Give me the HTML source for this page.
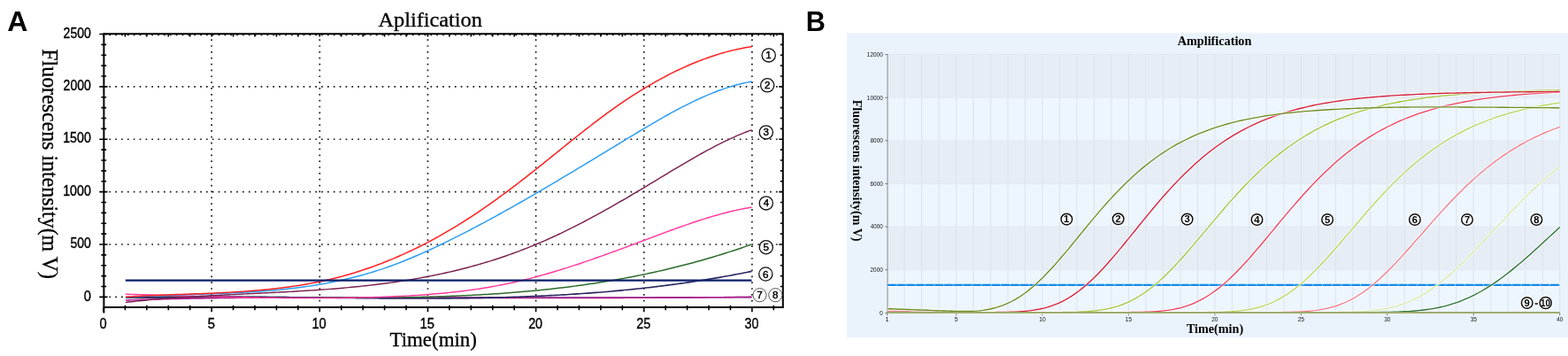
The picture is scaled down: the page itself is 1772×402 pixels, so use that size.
<!DOCTYPE html><html><head><meta charset="utf-8"><title>Amplification</title><style>html,body{margin:0;padding:0;background:#fff;width:1772px;height:402px;overflow:hidden}svg{display:block}.sans{font-family:"Liberation Sans",Arial,sans-serif}.serif{font-family:"Liberation Serif","Times New Roman",serif}</style></head><body>
<svg width="1772" height="402" viewBox="0 0 1772 402">
<rect width="1772" height="402" fill="#fff"/>
<text class="sans" transform="translate(8.2 35.3) scale(1.0000 1)" font-size="32" font-weight="bold" fill="#000">A</text>
<text class="serif" transform="translate(427.46 29.6) scale(1.0128 1)" font-size="24" fill="#000" stroke="#000" stroke-width="0.3">Aplification</text>
<path d="M238.3 44.3h1.7v1.7h-1.7zM238.3 51.15h1.7v1.7h-1.7zM238.3 58h1.7v1.7h-1.7zM238.3 64.85h1.7v1.7h-1.7zM238.3 71.7h1.7v1.7h-1.7zM238.3 78.55h1.7v1.7h-1.7zM238.3 85.4h1.7v1.7h-1.7zM238.3 92.25h1.7v1.7h-1.7zM238.3 99.1h1.7v1.7h-1.7zM238.3 105.95h1.7v1.7h-1.7zM238.3 112.8h1.7v1.7h-1.7zM238.3 119.65h1.7v1.7h-1.7zM238.3 126.5h1.7v1.7h-1.7zM238.3 133.35h1.7v1.7h-1.7zM238.3 140.2h1.7v1.7h-1.7zM238.3 147.05h1.7v1.7h-1.7zM238.3 153.9h1.7v1.7h-1.7zM238.3 160.75h1.7v1.7h-1.7zM238.3 167.6h1.7v1.7h-1.7zM238.3 174.45h1.7v1.7h-1.7zM238.3 181.3h1.7v1.7h-1.7zM238.3 188.15h1.7v1.7h-1.7zM238.3 195h1.7v1.7h-1.7zM238.3 201.85h1.7v1.7h-1.7zM238.3 208.7h1.7v1.7h-1.7zM238.3 215.55h1.7v1.7h-1.7zM238.3 222.4h1.7v1.7h-1.7zM238.3 229.25h1.7v1.7h-1.7zM238.3 236.1h1.7v1.7h-1.7zM238.3 242.95h1.7v1.7h-1.7zM238.3 249.8h1.7v1.7h-1.7zM238.3 256.65h1.7v1.7h-1.7zM238.3 263.5h1.7v1.7h-1.7zM238.3 270.35h1.7v1.7h-1.7zM238.3 277.2h1.7v1.7h-1.7zM238.3 284.05h1.7v1.7h-1.7zM238.3 290.9h1.7v1.7h-1.7zM238.3 297.75h1.7v1.7h-1.7zM238.3 304.6h1.7v1.7h-1.7zM238.3 311.45h1.7v1.7h-1.7zM238.3 318.3h1.7v1.7h-1.7zM238.3 325.15h1.7v1.7h-1.7zM238.3 332h1.7v1.7h-1.7zM238.3 338.85h1.7v1.7h-1.7zM360.45 44.3h1.7v1.7h-1.7zM360.45 51.15h1.7v1.7h-1.7zM360.45 58h1.7v1.7h-1.7zM360.45 64.85h1.7v1.7h-1.7zM360.45 71.7h1.7v1.7h-1.7zM360.45 78.55h1.7v1.7h-1.7zM360.45 85.4h1.7v1.7h-1.7zM360.45 92.25h1.7v1.7h-1.7zM360.45 99.1h1.7v1.7h-1.7zM360.45 105.95h1.7v1.7h-1.7zM360.45 112.8h1.7v1.7h-1.7zM360.45 119.65h1.7v1.7h-1.7zM360.45 126.5h1.7v1.7h-1.7zM360.45 133.35h1.7v1.7h-1.7zM360.45 140.2h1.7v1.7h-1.7zM360.45 147.05h1.7v1.7h-1.7zM360.45 153.9h1.7v1.7h-1.7zM360.45 160.75h1.7v1.7h-1.7zM360.45 167.6h1.7v1.7h-1.7zM360.45 174.45h1.7v1.7h-1.7zM360.45 181.3h1.7v1.7h-1.7zM360.45 188.15h1.7v1.7h-1.7zM360.45 195h1.7v1.7h-1.7zM360.45 201.85h1.7v1.7h-1.7zM360.45 208.7h1.7v1.7h-1.7zM360.45 215.55h1.7v1.7h-1.7zM360.45 222.4h1.7v1.7h-1.7zM360.45 229.25h1.7v1.7h-1.7zM360.45 236.1h1.7v1.7h-1.7zM360.45 242.95h1.7v1.7h-1.7zM360.45 249.8h1.7v1.7h-1.7zM360.45 256.65h1.7v1.7h-1.7zM360.45 263.5h1.7v1.7h-1.7zM360.45 270.35h1.7v1.7h-1.7zM360.45 277.2h1.7v1.7h-1.7zM360.45 284.05h1.7v1.7h-1.7zM360.45 290.9h1.7v1.7h-1.7zM360.45 297.75h1.7v1.7h-1.7zM360.45 304.6h1.7v1.7h-1.7zM360.45 311.45h1.7v1.7h-1.7zM360.45 318.3h1.7v1.7h-1.7zM360.45 325.15h1.7v1.7h-1.7zM360.45 332h1.7v1.7h-1.7zM360.45 338.85h1.7v1.7h-1.7zM482.6 44.3h1.7v1.7h-1.7zM482.6 51.15h1.7v1.7h-1.7zM482.6 58h1.7v1.7h-1.7zM482.6 64.85h1.7v1.7h-1.7zM482.6 71.7h1.7v1.7h-1.7zM482.6 78.55h1.7v1.7h-1.7zM482.6 85.4h1.7v1.7h-1.7zM482.6 92.25h1.7v1.7h-1.7zM482.6 99.1h1.7v1.7h-1.7zM482.6 105.95h1.7v1.7h-1.7zM482.6 112.8h1.7v1.7h-1.7zM482.6 119.65h1.7v1.7h-1.7zM482.6 126.5h1.7v1.7h-1.7zM482.6 133.35h1.7v1.7h-1.7zM482.6 140.2h1.7v1.7h-1.7zM482.6 147.05h1.7v1.7h-1.7zM482.6 153.9h1.7v1.7h-1.7zM482.6 160.75h1.7v1.7h-1.7zM482.6 167.6h1.7v1.7h-1.7zM482.6 174.45h1.7v1.7h-1.7zM482.6 181.3h1.7v1.7h-1.7zM482.6 188.15h1.7v1.7h-1.7zM482.6 195h1.7v1.7h-1.7zM482.6 201.85h1.7v1.7h-1.7zM482.6 208.7h1.7v1.7h-1.7zM482.6 215.55h1.7v1.7h-1.7zM482.6 222.4h1.7v1.7h-1.7zM482.6 229.25h1.7v1.7h-1.7zM482.6 236.1h1.7v1.7h-1.7zM482.6 242.95h1.7v1.7h-1.7zM482.6 249.8h1.7v1.7h-1.7zM482.6 256.65h1.7v1.7h-1.7zM482.6 263.5h1.7v1.7h-1.7zM482.6 270.35h1.7v1.7h-1.7zM482.6 277.2h1.7v1.7h-1.7zM482.6 284.05h1.7v1.7h-1.7zM482.6 290.9h1.7v1.7h-1.7zM482.6 297.75h1.7v1.7h-1.7zM482.6 304.6h1.7v1.7h-1.7zM482.6 311.45h1.7v1.7h-1.7zM482.6 318.3h1.7v1.7h-1.7zM482.6 325.15h1.7v1.7h-1.7zM482.6 332h1.7v1.7h-1.7zM482.6 338.85h1.7v1.7h-1.7zM604.75 44.3h1.7v1.7h-1.7zM604.75 51.15h1.7v1.7h-1.7zM604.75 58h1.7v1.7h-1.7zM604.75 64.85h1.7v1.7h-1.7zM604.75 71.7h1.7v1.7h-1.7zM604.75 78.55h1.7v1.7h-1.7zM604.75 85.4h1.7v1.7h-1.7zM604.75 92.25h1.7v1.7h-1.7zM604.75 99.1h1.7v1.7h-1.7zM604.75 105.95h1.7v1.7h-1.7zM604.75 112.8h1.7v1.7h-1.7zM604.75 119.65h1.7v1.7h-1.7zM604.75 126.5h1.7v1.7h-1.7zM604.75 133.35h1.7v1.7h-1.7zM604.75 140.2h1.7v1.7h-1.7zM604.75 147.05h1.7v1.7h-1.7zM604.75 153.9h1.7v1.7h-1.7zM604.75 160.75h1.7v1.7h-1.7zM604.75 167.6h1.7v1.7h-1.7zM604.75 174.45h1.7v1.7h-1.7zM604.75 181.3h1.7v1.7h-1.7zM604.75 188.15h1.7v1.7h-1.7zM604.75 195h1.7v1.7h-1.7zM604.75 201.85h1.7v1.7h-1.7zM604.75 208.7h1.7v1.7h-1.7zM604.75 215.55h1.7v1.7h-1.7zM604.75 222.4h1.7v1.7h-1.7zM604.75 229.25h1.7v1.7h-1.7zM604.75 236.1h1.7v1.7h-1.7zM604.75 242.95h1.7v1.7h-1.7zM604.75 249.8h1.7v1.7h-1.7zM604.75 256.65h1.7v1.7h-1.7zM604.75 263.5h1.7v1.7h-1.7zM604.75 270.35h1.7v1.7h-1.7zM604.75 277.2h1.7v1.7h-1.7zM604.75 284.05h1.7v1.7h-1.7zM604.75 290.9h1.7v1.7h-1.7zM604.75 297.75h1.7v1.7h-1.7zM604.75 304.6h1.7v1.7h-1.7zM604.75 311.45h1.7v1.7h-1.7zM604.75 318.3h1.7v1.7h-1.7zM604.75 325.15h1.7v1.7h-1.7zM604.75 332h1.7v1.7h-1.7zM604.75 338.85h1.7v1.7h-1.7zM726.9 44.3h1.7v1.7h-1.7zM726.9 51.15h1.7v1.7h-1.7zM726.9 58h1.7v1.7h-1.7zM726.9 64.85h1.7v1.7h-1.7zM726.9 71.7h1.7v1.7h-1.7zM726.9 78.55h1.7v1.7h-1.7zM726.9 85.4h1.7v1.7h-1.7zM726.9 92.25h1.7v1.7h-1.7zM726.9 99.1h1.7v1.7h-1.7zM726.9 105.95h1.7v1.7h-1.7zM726.9 112.8h1.7v1.7h-1.7zM726.9 119.65h1.7v1.7h-1.7zM726.9 126.5h1.7v1.7h-1.7zM726.9 133.35h1.7v1.7h-1.7zM726.9 140.2h1.7v1.7h-1.7zM726.9 147.05h1.7v1.7h-1.7zM726.9 153.9h1.7v1.7h-1.7zM726.9 160.75h1.7v1.7h-1.7zM726.9 167.6h1.7v1.7h-1.7zM726.9 174.45h1.7v1.7h-1.7zM726.9 181.3h1.7v1.7h-1.7zM726.9 188.15h1.7v1.7h-1.7zM726.9 195h1.7v1.7h-1.7zM726.9 201.85h1.7v1.7h-1.7zM726.9 208.7h1.7v1.7h-1.7zM726.9 215.55h1.7v1.7h-1.7zM726.9 222.4h1.7v1.7h-1.7zM726.9 229.25h1.7v1.7h-1.7zM726.9 236.1h1.7v1.7h-1.7zM726.9 242.95h1.7v1.7h-1.7zM726.9 249.8h1.7v1.7h-1.7zM726.9 256.65h1.7v1.7h-1.7zM726.9 263.5h1.7v1.7h-1.7zM726.9 270.35h1.7v1.7h-1.7zM726.9 277.2h1.7v1.7h-1.7zM726.9 284.05h1.7v1.7h-1.7zM726.9 290.9h1.7v1.7h-1.7zM726.9 297.75h1.7v1.7h-1.7zM726.9 304.6h1.7v1.7h-1.7zM726.9 311.45h1.7v1.7h-1.7zM726.9 318.3h1.7v1.7h-1.7zM726.9 325.15h1.7v1.7h-1.7zM726.9 332h1.7v1.7h-1.7zM726.9 338.85h1.7v1.7h-1.7zM849.05 44.3h1.7v1.7h-1.7zM849.05 51.15h1.7v1.7h-1.7zM849.05 58h1.7v1.7h-1.7zM849.05 64.85h1.7v1.7h-1.7zM849.05 71.7h1.7v1.7h-1.7zM849.05 78.55h1.7v1.7h-1.7zM849.05 85.4h1.7v1.7h-1.7zM849.05 92.25h1.7v1.7h-1.7zM849.05 99.1h1.7v1.7h-1.7zM849.05 105.95h1.7v1.7h-1.7zM849.05 112.8h1.7v1.7h-1.7zM849.05 119.65h1.7v1.7h-1.7zM849.05 126.5h1.7v1.7h-1.7zM849.05 133.35h1.7v1.7h-1.7zM849.05 140.2h1.7v1.7h-1.7zM849.05 147.05h1.7v1.7h-1.7zM849.05 153.9h1.7v1.7h-1.7zM849.05 160.75h1.7v1.7h-1.7zM849.05 167.6h1.7v1.7h-1.7zM849.05 174.45h1.7v1.7h-1.7zM849.05 181.3h1.7v1.7h-1.7zM849.05 188.15h1.7v1.7h-1.7zM849.05 195h1.7v1.7h-1.7zM849.05 201.85h1.7v1.7h-1.7zM849.05 208.7h1.7v1.7h-1.7zM849.05 215.55h1.7v1.7h-1.7zM849.05 222.4h1.7v1.7h-1.7zM849.05 229.25h1.7v1.7h-1.7zM849.05 236.1h1.7v1.7h-1.7zM849.05 242.95h1.7v1.7h-1.7zM849.05 249.8h1.7v1.7h-1.7zM849.05 256.65h1.7v1.7h-1.7zM849.05 263.5h1.7v1.7h-1.7zM849.05 270.35h1.7v1.7h-1.7zM849.05 277.2h1.7v1.7h-1.7zM849.05 284.05h1.7v1.7h-1.7zM849.05 290.9h1.7v1.7h-1.7zM849.05 297.75h1.7v1.7h-1.7zM849.05 304.6h1.7v1.7h-1.7zM849.05 311.45h1.7v1.7h-1.7zM849.05 318.3h1.7v1.7h-1.7zM849.05 325.15h1.7v1.7h-1.7zM849.05 332h1.7v1.7h-1.7zM849.05 338.85h1.7v1.7h-1.7zM123.4 97.03h1.7v1.7h-1.7zM130.25 97.03h1.7v1.7h-1.7zM137.1 97.03h1.7v1.7h-1.7zM143.95 97.03h1.7v1.7h-1.7zM150.8 97.03h1.7v1.7h-1.7zM157.65 97.03h1.7v1.7h-1.7zM164.5 97.03h1.7v1.7h-1.7zM171.35 97.03h1.7v1.7h-1.7zM178.2 97.03h1.7v1.7h-1.7zM185.05 97.03h1.7v1.7h-1.7zM191.9 97.03h1.7v1.7h-1.7zM198.75 97.03h1.7v1.7h-1.7zM205.6 97.03h1.7v1.7h-1.7zM212.45 97.03h1.7v1.7h-1.7zM219.3 97.03h1.7v1.7h-1.7zM226.15 97.03h1.7v1.7h-1.7zM233 97.03h1.7v1.7h-1.7zM239.85 97.03h1.7v1.7h-1.7zM246.7 97.03h1.7v1.7h-1.7zM253.55 97.03h1.7v1.7h-1.7zM260.4 97.03h1.7v1.7h-1.7zM267.25 97.03h1.7v1.7h-1.7zM274.1 97.03h1.7v1.7h-1.7zM280.95 97.03h1.7v1.7h-1.7zM287.8 97.03h1.7v1.7h-1.7zM294.65 97.03h1.7v1.7h-1.7zM301.5 97.03h1.7v1.7h-1.7zM308.35 97.03h1.7v1.7h-1.7zM315.2 97.03h1.7v1.7h-1.7zM322.05 97.03h1.7v1.7h-1.7zM328.9 97.03h1.7v1.7h-1.7zM335.75 97.03h1.7v1.7h-1.7zM342.6 97.03h1.7v1.7h-1.7zM349.45 97.03h1.7v1.7h-1.7zM356.3 97.03h1.7v1.7h-1.7zM363.15 97.03h1.7v1.7h-1.7zM370 97.03h1.7v1.7h-1.7zM376.85 97.03h1.7v1.7h-1.7zM383.7 97.03h1.7v1.7h-1.7zM390.55 97.03h1.7v1.7h-1.7zM397.4 97.03h1.7v1.7h-1.7zM404.25 97.03h1.7v1.7h-1.7zM411.1 97.03h1.7v1.7h-1.7zM417.95 97.03h1.7v1.7h-1.7zM424.8 97.03h1.7v1.7h-1.7zM431.65 97.03h1.7v1.7h-1.7zM438.5 97.03h1.7v1.7h-1.7zM445.35 97.03h1.7v1.7h-1.7zM452.2 97.03h1.7v1.7h-1.7zM459.05 97.03h1.7v1.7h-1.7zM465.9 97.03h1.7v1.7h-1.7zM472.75 97.03h1.7v1.7h-1.7zM479.6 97.03h1.7v1.7h-1.7zM486.45 97.03h1.7v1.7h-1.7zM493.3 97.03h1.7v1.7h-1.7zM500.15 97.03h1.7v1.7h-1.7zM507 97.03h1.7v1.7h-1.7zM513.85 97.03h1.7v1.7h-1.7zM520.7 97.03h1.7v1.7h-1.7zM527.55 97.03h1.7v1.7h-1.7zM534.4 97.03h1.7v1.7h-1.7zM541.25 97.03h1.7v1.7h-1.7zM548.1 97.03h1.7v1.7h-1.7zM554.95 97.03h1.7v1.7h-1.7zM561.8 97.03h1.7v1.7h-1.7zM568.65 97.03h1.7v1.7h-1.7zM575.5 97.03h1.7v1.7h-1.7zM582.35 97.03h1.7v1.7h-1.7zM589.2 97.03h1.7v1.7h-1.7zM596.05 97.03h1.7v1.7h-1.7zM602.9 97.03h1.7v1.7h-1.7zM609.75 97.03h1.7v1.7h-1.7zM616.6 97.03h1.7v1.7h-1.7zM623.45 97.03h1.7v1.7h-1.7zM630.3 97.03h1.7v1.7h-1.7zM637.15 97.03h1.7v1.7h-1.7zM644 97.03h1.7v1.7h-1.7zM650.85 97.03h1.7v1.7h-1.7zM657.7 97.03h1.7v1.7h-1.7zM664.55 97.03h1.7v1.7h-1.7zM671.4 97.03h1.7v1.7h-1.7zM678.25 97.03h1.7v1.7h-1.7zM685.1 97.03h1.7v1.7h-1.7zM691.95 97.03h1.7v1.7h-1.7zM698.8 97.03h1.7v1.7h-1.7zM705.65 97.03h1.7v1.7h-1.7zM712.5 97.03h1.7v1.7h-1.7zM719.35 97.03h1.7v1.7h-1.7zM726.2 97.03h1.7v1.7h-1.7zM733.05 97.03h1.7v1.7h-1.7zM739.9 97.03h1.7v1.7h-1.7zM746.75 97.03h1.7v1.7h-1.7zM753.6 97.03h1.7v1.7h-1.7zM760.45 97.03h1.7v1.7h-1.7zM767.3 97.03h1.7v1.7h-1.7zM774.15 97.03h1.7v1.7h-1.7zM781 97.03h1.7v1.7h-1.7zM787.85 97.03h1.7v1.7h-1.7zM794.7 97.03h1.7v1.7h-1.7zM801.55 97.03h1.7v1.7h-1.7zM808.4 97.03h1.7v1.7h-1.7zM815.25 97.03h1.7v1.7h-1.7zM822.1 97.03h1.7v1.7h-1.7zM828.95 97.03h1.7v1.7h-1.7zM835.8 97.03h1.7v1.7h-1.7zM842.65 97.03h1.7v1.7h-1.7zM849.5 97.03h1.7v1.7h-1.7zM856.35 97.03h1.7v1.7h-1.7zM863.2 97.03h1.7v1.7h-1.7zM870.05 97.03h1.7v1.7h-1.7zM876.9 97.03h1.7v1.7h-1.7zM123.4 156.41h1.7v1.7h-1.7zM130.25 156.41h1.7v1.7h-1.7zM137.1 156.41h1.7v1.7h-1.7zM143.95 156.41h1.7v1.7h-1.7zM150.8 156.41h1.7v1.7h-1.7zM157.65 156.41h1.7v1.7h-1.7zM164.5 156.41h1.7v1.7h-1.7zM171.35 156.41h1.7v1.7h-1.7zM178.2 156.41h1.7v1.7h-1.7zM185.05 156.41h1.7v1.7h-1.7zM191.9 156.41h1.7v1.7h-1.7zM198.75 156.41h1.7v1.7h-1.7zM205.6 156.41h1.7v1.7h-1.7zM212.45 156.41h1.7v1.7h-1.7zM219.3 156.41h1.7v1.7h-1.7zM226.15 156.41h1.7v1.7h-1.7zM233 156.41h1.7v1.7h-1.7zM239.85 156.41h1.7v1.7h-1.7zM246.7 156.41h1.7v1.7h-1.7zM253.55 156.41h1.7v1.7h-1.7zM260.4 156.41h1.7v1.7h-1.7zM267.25 156.41h1.7v1.7h-1.7zM274.1 156.41h1.7v1.7h-1.7zM280.95 156.41h1.7v1.7h-1.7zM287.8 156.41h1.7v1.7h-1.7zM294.65 156.41h1.7v1.7h-1.7zM301.5 156.41h1.7v1.7h-1.7zM308.35 156.41h1.7v1.7h-1.7zM315.2 156.41h1.7v1.7h-1.7zM322.05 156.41h1.7v1.7h-1.7zM328.9 156.41h1.7v1.7h-1.7zM335.75 156.41h1.7v1.7h-1.7zM342.6 156.41h1.7v1.7h-1.7zM349.45 156.41h1.7v1.7h-1.7zM356.3 156.41h1.7v1.7h-1.7zM363.15 156.41h1.7v1.7h-1.7zM370 156.41h1.7v1.7h-1.7zM376.85 156.41h1.7v1.7h-1.7zM383.7 156.41h1.7v1.7h-1.7zM390.55 156.41h1.7v1.7h-1.7zM397.4 156.41h1.7v1.7h-1.7zM404.25 156.41h1.7v1.7h-1.7zM411.1 156.41h1.7v1.7h-1.7zM417.95 156.41h1.7v1.7h-1.7zM424.8 156.41h1.7v1.7h-1.7zM431.65 156.41h1.7v1.7h-1.7zM438.5 156.41h1.7v1.7h-1.7zM445.35 156.41h1.7v1.7h-1.7zM452.2 156.41h1.7v1.7h-1.7zM459.05 156.41h1.7v1.7h-1.7zM465.9 156.41h1.7v1.7h-1.7zM472.75 156.41h1.7v1.7h-1.7zM479.6 156.41h1.7v1.7h-1.7zM486.45 156.41h1.7v1.7h-1.7zM493.3 156.41h1.7v1.7h-1.7zM500.15 156.41h1.7v1.7h-1.7zM507 156.41h1.7v1.7h-1.7zM513.85 156.41h1.7v1.7h-1.7zM520.7 156.41h1.7v1.7h-1.7zM527.55 156.41h1.7v1.7h-1.7zM534.4 156.41h1.7v1.7h-1.7zM541.25 156.41h1.7v1.7h-1.7zM548.1 156.41h1.7v1.7h-1.7zM554.95 156.41h1.7v1.7h-1.7zM561.8 156.41h1.7v1.7h-1.7zM568.65 156.41h1.7v1.7h-1.7zM575.5 156.41h1.7v1.7h-1.7zM582.35 156.41h1.7v1.7h-1.7zM589.2 156.41h1.7v1.7h-1.7zM596.05 156.41h1.7v1.7h-1.7zM602.9 156.41h1.7v1.7h-1.7zM609.75 156.41h1.7v1.7h-1.7zM616.6 156.41h1.7v1.7h-1.7zM623.45 156.41h1.7v1.7h-1.7zM630.3 156.41h1.7v1.7h-1.7zM637.15 156.41h1.7v1.7h-1.7zM644 156.41h1.7v1.7h-1.7zM650.85 156.41h1.7v1.7h-1.7zM657.7 156.41h1.7v1.7h-1.7zM664.55 156.41h1.7v1.7h-1.7zM671.4 156.41h1.7v1.7h-1.7zM678.25 156.41h1.7v1.7h-1.7zM685.1 156.41h1.7v1.7h-1.7zM691.95 156.41h1.7v1.7h-1.7zM698.8 156.41h1.7v1.7h-1.7zM705.65 156.41h1.7v1.7h-1.7zM712.5 156.41h1.7v1.7h-1.7zM719.35 156.41h1.7v1.7h-1.7zM726.2 156.41h1.7v1.7h-1.7zM733.05 156.41h1.7v1.7h-1.7zM739.9 156.41h1.7v1.7h-1.7zM746.75 156.41h1.7v1.7h-1.7zM753.6 156.41h1.7v1.7h-1.7zM760.45 156.41h1.7v1.7h-1.7zM767.3 156.41h1.7v1.7h-1.7zM774.15 156.41h1.7v1.7h-1.7zM781 156.41h1.7v1.7h-1.7zM787.85 156.41h1.7v1.7h-1.7zM794.7 156.41h1.7v1.7h-1.7zM801.55 156.41h1.7v1.7h-1.7zM808.4 156.41h1.7v1.7h-1.7zM815.25 156.41h1.7v1.7h-1.7zM822.1 156.41h1.7v1.7h-1.7zM828.95 156.41h1.7v1.7h-1.7zM835.8 156.41h1.7v1.7h-1.7zM842.65 156.41h1.7v1.7h-1.7zM849.5 156.41h1.7v1.7h-1.7zM856.35 156.41h1.7v1.7h-1.7zM863.2 156.41h1.7v1.7h-1.7zM870.05 156.41h1.7v1.7h-1.7zM876.9 156.41h1.7v1.7h-1.7zM123.4 215.79h1.7v1.7h-1.7zM130.25 215.79h1.7v1.7h-1.7zM137.1 215.79h1.7v1.7h-1.7zM143.95 215.79h1.7v1.7h-1.7zM150.8 215.79h1.7v1.7h-1.7zM157.65 215.79h1.7v1.7h-1.7zM164.5 215.79h1.7v1.7h-1.7zM171.35 215.79h1.7v1.7h-1.7zM178.2 215.79h1.7v1.7h-1.7zM185.05 215.79h1.7v1.7h-1.7zM191.9 215.79h1.7v1.7h-1.7zM198.75 215.79h1.7v1.7h-1.7zM205.6 215.79h1.7v1.7h-1.7zM212.45 215.79h1.7v1.7h-1.7zM219.3 215.79h1.7v1.7h-1.7zM226.15 215.79h1.7v1.7h-1.7zM233 215.79h1.7v1.7h-1.7zM239.85 215.79h1.7v1.7h-1.7zM246.7 215.79h1.7v1.7h-1.7zM253.55 215.79h1.7v1.7h-1.7zM260.4 215.79h1.7v1.7h-1.7zM267.25 215.79h1.7v1.7h-1.7zM274.1 215.79h1.7v1.7h-1.7zM280.95 215.79h1.7v1.7h-1.7zM287.8 215.79h1.7v1.7h-1.7zM294.65 215.79h1.7v1.7h-1.7zM301.5 215.79h1.7v1.7h-1.7zM308.35 215.79h1.7v1.7h-1.7zM315.2 215.79h1.7v1.7h-1.7zM322.05 215.79h1.7v1.7h-1.7zM328.9 215.79h1.7v1.7h-1.7zM335.75 215.79h1.7v1.7h-1.7zM342.6 215.79h1.7v1.7h-1.7zM349.45 215.79h1.7v1.7h-1.7zM356.3 215.79h1.7v1.7h-1.7zM363.15 215.79h1.7v1.7h-1.7zM370 215.79h1.7v1.7h-1.7zM376.85 215.79h1.7v1.7h-1.7zM383.7 215.79h1.7v1.7h-1.7zM390.55 215.79h1.7v1.7h-1.7zM397.4 215.79h1.7v1.7h-1.7zM404.25 215.79h1.7v1.7h-1.7zM411.1 215.79h1.7v1.7h-1.7zM417.95 215.79h1.7v1.7h-1.7zM424.8 215.79h1.7v1.7h-1.7zM431.65 215.79h1.7v1.7h-1.7zM438.5 215.79h1.7v1.7h-1.7zM445.35 215.79h1.7v1.7h-1.7zM452.2 215.79h1.7v1.7h-1.7zM459.05 215.79h1.7v1.7h-1.7zM465.9 215.79h1.7v1.7h-1.7zM472.75 215.79h1.7v1.7h-1.7zM479.6 215.79h1.7v1.7h-1.7zM486.45 215.79h1.7v1.7h-1.7zM493.3 215.79h1.7v1.7h-1.7zM500.15 215.79h1.7v1.7h-1.7zM507 215.79h1.7v1.7h-1.7zM513.85 215.79h1.7v1.7h-1.7zM520.7 215.79h1.7v1.7h-1.7zM527.55 215.79h1.7v1.7h-1.7zM534.4 215.79h1.7v1.7h-1.7zM541.25 215.79h1.7v1.7h-1.7zM548.1 215.79h1.7v1.7h-1.7zM554.95 215.79h1.7v1.7h-1.7zM561.8 215.79h1.7v1.7h-1.7zM568.65 215.79h1.7v1.7h-1.7zM575.5 215.79h1.7v1.7h-1.7zM582.35 215.79h1.7v1.7h-1.7zM589.2 215.79h1.7v1.7h-1.7zM596.05 215.79h1.7v1.7h-1.7zM602.9 215.79h1.7v1.7h-1.7zM609.75 215.79h1.7v1.7h-1.7zM616.6 215.79h1.7v1.7h-1.7zM623.45 215.79h1.7v1.7h-1.7zM630.3 215.79h1.7v1.7h-1.7zM637.15 215.79h1.7v1.7h-1.7zM644 215.79h1.7v1.7h-1.7zM650.85 215.79h1.7v1.7h-1.7zM657.7 215.79h1.7v1.7h-1.7zM664.55 215.79h1.7v1.7h-1.7zM671.4 215.79h1.7v1.7h-1.7zM678.25 215.79h1.7v1.7h-1.7zM685.1 215.79h1.7v1.7h-1.7zM691.95 215.79h1.7v1.7h-1.7zM698.8 215.79h1.7v1.7h-1.7zM705.65 215.79h1.7v1.7h-1.7zM712.5 215.79h1.7v1.7h-1.7zM719.35 215.79h1.7v1.7h-1.7zM726.2 215.79h1.7v1.7h-1.7zM733.05 215.79h1.7v1.7h-1.7zM739.9 215.79h1.7v1.7h-1.7zM746.75 215.79h1.7v1.7h-1.7zM753.6 215.79h1.7v1.7h-1.7zM760.45 215.79h1.7v1.7h-1.7zM767.3 215.79h1.7v1.7h-1.7zM774.15 215.79h1.7v1.7h-1.7zM781 215.79h1.7v1.7h-1.7zM787.85 215.79h1.7v1.7h-1.7zM794.7 215.79h1.7v1.7h-1.7zM801.55 215.79h1.7v1.7h-1.7zM808.4 215.79h1.7v1.7h-1.7zM815.25 215.79h1.7v1.7h-1.7zM822.1 215.79h1.7v1.7h-1.7zM828.95 215.79h1.7v1.7h-1.7zM835.8 215.79h1.7v1.7h-1.7zM842.65 215.79h1.7v1.7h-1.7zM849.5 215.79h1.7v1.7h-1.7zM856.35 215.79h1.7v1.7h-1.7zM863.2 215.79h1.7v1.7h-1.7zM870.05 215.79h1.7v1.7h-1.7zM876.9 215.79h1.7v1.7h-1.7zM123.4 275.17h1.7v1.7h-1.7zM130.25 275.17h1.7v1.7h-1.7zM137.1 275.17h1.7v1.7h-1.7zM143.95 275.17h1.7v1.7h-1.7zM150.8 275.17h1.7v1.7h-1.7zM157.65 275.17h1.7v1.7h-1.7zM164.5 275.17h1.7v1.7h-1.7zM171.35 275.17h1.7v1.7h-1.7zM178.2 275.17h1.7v1.7h-1.7zM185.05 275.17h1.7v1.7h-1.7zM191.9 275.17h1.7v1.7h-1.7zM198.75 275.17h1.7v1.7h-1.7zM205.6 275.17h1.7v1.7h-1.7zM212.45 275.17h1.7v1.7h-1.7zM219.3 275.17h1.7v1.7h-1.7zM226.15 275.17h1.7v1.7h-1.7zM233 275.17h1.7v1.7h-1.7zM239.85 275.17h1.7v1.7h-1.7zM246.7 275.17h1.7v1.7h-1.7zM253.55 275.17h1.7v1.7h-1.7zM260.4 275.17h1.7v1.7h-1.7zM267.25 275.17h1.7v1.7h-1.7zM274.1 275.17h1.7v1.7h-1.7zM280.95 275.17h1.7v1.7h-1.7zM287.8 275.17h1.7v1.7h-1.7zM294.65 275.17h1.7v1.7h-1.7zM301.5 275.17h1.7v1.7h-1.7zM308.35 275.17h1.7v1.7h-1.7zM315.2 275.17h1.7v1.7h-1.7zM322.05 275.17h1.7v1.7h-1.7zM328.9 275.17h1.7v1.7h-1.7zM335.75 275.17h1.7v1.7h-1.7zM342.6 275.17h1.7v1.7h-1.7zM349.45 275.17h1.7v1.7h-1.7zM356.3 275.17h1.7v1.7h-1.7zM363.15 275.17h1.7v1.7h-1.7zM370 275.17h1.7v1.7h-1.7zM376.85 275.17h1.7v1.7h-1.7zM383.7 275.17h1.7v1.7h-1.7zM390.55 275.17h1.7v1.7h-1.7zM397.4 275.17h1.7v1.7h-1.7zM404.25 275.17h1.7v1.7h-1.7zM411.1 275.17h1.7v1.7h-1.7zM417.95 275.17h1.7v1.7h-1.7zM424.8 275.17h1.7v1.7h-1.7zM431.65 275.17h1.7v1.7h-1.7zM438.5 275.17h1.7v1.7h-1.7zM445.35 275.17h1.7v1.7h-1.7zM452.2 275.17h1.7v1.7h-1.7zM459.05 275.17h1.7v1.7h-1.7zM465.9 275.17h1.7v1.7h-1.7zM472.75 275.17h1.7v1.7h-1.7zM479.6 275.17h1.7v1.7h-1.7zM486.45 275.17h1.7v1.7h-1.7zM493.3 275.17h1.7v1.7h-1.7zM500.15 275.17h1.7v1.7h-1.7zM507 275.17h1.7v1.7h-1.7zM513.85 275.17h1.7v1.7h-1.7zM520.7 275.17h1.7v1.7h-1.7zM527.55 275.17h1.7v1.7h-1.7zM534.4 275.17h1.7v1.7h-1.7zM541.25 275.17h1.7v1.7h-1.7zM548.1 275.17h1.7v1.7h-1.7zM554.95 275.17h1.7v1.7h-1.7zM561.8 275.17h1.7v1.7h-1.7zM568.65 275.17h1.7v1.7h-1.7zM575.5 275.17h1.7v1.7h-1.7zM582.35 275.17h1.7v1.7h-1.7zM589.2 275.17h1.7v1.7h-1.7zM596.05 275.17h1.7v1.7h-1.7zM602.9 275.17h1.7v1.7h-1.7zM609.75 275.17h1.7v1.7h-1.7zM616.6 275.17h1.7v1.7h-1.7zM623.45 275.17h1.7v1.7h-1.7zM630.3 275.17h1.7v1.7h-1.7zM637.15 275.17h1.7v1.7h-1.7zM644 275.17h1.7v1.7h-1.7zM650.85 275.17h1.7v1.7h-1.7zM657.7 275.17h1.7v1.7h-1.7zM664.55 275.17h1.7v1.7h-1.7zM671.4 275.17h1.7v1.7h-1.7zM678.25 275.17h1.7v1.7h-1.7zM685.1 275.17h1.7v1.7h-1.7zM691.95 275.17h1.7v1.7h-1.7zM698.8 275.17h1.7v1.7h-1.7zM705.65 275.17h1.7v1.7h-1.7zM712.5 275.17h1.7v1.7h-1.7zM719.35 275.17h1.7v1.7h-1.7zM726.2 275.17h1.7v1.7h-1.7zM733.05 275.17h1.7v1.7h-1.7zM739.9 275.17h1.7v1.7h-1.7zM746.75 275.17h1.7v1.7h-1.7zM753.6 275.17h1.7v1.7h-1.7zM760.45 275.17h1.7v1.7h-1.7zM767.3 275.17h1.7v1.7h-1.7zM774.15 275.17h1.7v1.7h-1.7zM781 275.17h1.7v1.7h-1.7zM787.85 275.17h1.7v1.7h-1.7zM794.7 275.17h1.7v1.7h-1.7zM801.55 275.17h1.7v1.7h-1.7zM808.4 275.17h1.7v1.7h-1.7zM815.25 275.17h1.7v1.7h-1.7zM822.1 275.17h1.7v1.7h-1.7zM828.95 275.17h1.7v1.7h-1.7zM835.8 275.17h1.7v1.7h-1.7zM842.65 275.17h1.7v1.7h-1.7zM849.5 275.17h1.7v1.7h-1.7zM856.35 275.17h1.7v1.7h-1.7zM863.2 275.17h1.7v1.7h-1.7zM870.05 275.17h1.7v1.7h-1.7zM876.9 275.17h1.7v1.7h-1.7zM123.4 334.55h1.7v1.7h-1.7zM130.25 334.55h1.7v1.7h-1.7zM137.1 334.55h1.7v1.7h-1.7z" fill="#1a1a1a"/>
<g stroke="#000" stroke-width="2" fill="none" stroke-linecap="square">
<path d="M117.4 38.3H884.8 M117.4 38.3V352.5 M117.4 347H884.8 M884.8 38.3V347"/>
</g>
<path d="M112.3 335.4H121.6M114.4 323.52H120.2M114.4 311.65H120.2M114.4 299.77H120.2M114.4 287.9H120.2M112.3 276.02H121.6M114.4 264.14H120.2M114.4 252.27H120.2M114.4 240.39H120.2M114.4 228.52H120.2M112.3 216.64H121.6M114.4 204.76H120.2M114.4 192.89H120.2M114.4 181.01H120.2M114.4 169.14H120.2M112.3 157.26H121.6M114.4 145.38H120.2M114.4 133.51H120.2M114.4 121.63H120.2M114.4 109.76H120.2M112.3 97.88H121.6M114.4 86H120.2M114.4 74.13H120.2M114.4 62.25H120.2M114.4 50.38H120.2M112.3 38.5H121.6M880.3 335.4H884.8M881.8 323.52H884.8M881.8 311.65H884.8M881.8 299.77H884.8M881.8 287.9H884.8M880.3 276.02H884.8M881.8 264.14H884.8M881.8 252.27H884.8M881.8 240.39H884.8M881.8 228.52H884.8M880.3 216.64H884.8M881.8 204.76H884.8M881.8 192.89H884.8M881.8 181.01H884.8M881.8 169.14H884.8M880.3 157.26H884.8M881.8 145.38H884.8M881.8 133.51H884.8M881.8 121.63H884.8M881.8 109.76H884.8M880.3 97.88H884.8M881.8 86H884.8M881.8 74.13H884.8M881.8 62.25H884.8M881.8 50.38H884.8M880.3 38.5H884.8M117 347V352.2M141.43 344.8V350.2M165.86 344.8V350.2M190.29 344.8V350.2M214.72 344.8V350.2M239.15 347V352.2M263.58 344.8V350.2M288.01 344.8V350.2M312.44 344.8V350.2M336.87 344.8V350.2M361.3 347V352.2M385.73 344.8V350.2M410.16 344.8V350.2M434.59 344.8V350.2M459.02 344.8V350.2M483.45 347V352.2M507.88 344.8V350.2M532.31 344.8V350.2M556.74 344.8V350.2M581.17 344.8V350.2M605.6 347V352.2M630.03 344.8V350.2M654.46 344.8V350.2M678.89 344.8V350.2M703.32 344.8V350.2M727.75 347V352.2M752.18 344.8V350.2M776.61 344.8V350.2M801.04 344.8V350.2M825.47 344.8V350.2M849.9 347V352.2M874.33 344.8V350.2M117 38.3V41.5M141.43 38.3V41.5M165.86 38.3V41.5M190.29 38.3V41.5M214.72 38.3V41.5M239.15 38.3V41.5M263.58 38.3V41.5M288.01 38.3V41.5M312.44 38.3V41.5M336.87 38.3V41.5M361.3 38.3V41.5M385.73 38.3V41.5M410.16 38.3V41.5M434.59 38.3V41.5M459.02 38.3V41.5M483.45 38.3V41.5M507.88 38.3V41.5M532.31 38.3V41.5M556.74 38.3V41.5M581.17 38.3V41.5M605.6 38.3V41.5M630.03 38.3V41.5M654.46 38.3V41.5M678.89 38.3V41.5M703.32 38.3V41.5M727.75 38.3V41.5M752.18 38.3V41.5M776.61 38.3V41.5M801.04 38.3V41.5M825.47 38.3V41.5M849.9 38.3V41.5M874.33 38.3V41.5" stroke="#000" stroke-width="1.6" fill="none"/>
<path d="M123.45 39.1h1.6v1.2h-1.6zM130.3 39.1h1.6v1.2h-1.6zM137.15 39.1h1.6v1.2h-1.6zM144 39.1h1.6v1.2h-1.6zM150.85 39.1h1.6v1.2h-1.6zM157.7 39.1h1.6v1.2h-1.6zM164.55 39.1h1.6v1.2h-1.6zM171.4 39.1h1.6v1.2h-1.6zM178.25 39.1h1.6v1.2h-1.6zM185.1 39.1h1.6v1.2h-1.6zM191.95 39.1h1.6v1.2h-1.6zM198.8 39.1h1.6v1.2h-1.6zM205.65 39.1h1.6v1.2h-1.6zM212.5 39.1h1.6v1.2h-1.6zM219.35 39.1h1.6v1.2h-1.6zM226.2 39.1h1.6v1.2h-1.6zM233.05 39.1h1.6v1.2h-1.6zM239.9 39.1h1.6v1.2h-1.6zM246.75 39.1h1.6v1.2h-1.6zM253.6 39.1h1.6v1.2h-1.6zM260.45 39.1h1.6v1.2h-1.6zM267.3 39.1h1.6v1.2h-1.6zM274.15 39.1h1.6v1.2h-1.6zM281 39.1h1.6v1.2h-1.6zM287.85 39.1h1.6v1.2h-1.6zM294.7 39.1h1.6v1.2h-1.6zM301.55 39.1h1.6v1.2h-1.6zM308.4 39.1h1.6v1.2h-1.6zM315.25 39.1h1.6v1.2h-1.6zM322.1 39.1h1.6v1.2h-1.6zM328.95 39.1h1.6v1.2h-1.6zM335.8 39.1h1.6v1.2h-1.6zM342.65 39.1h1.6v1.2h-1.6zM349.5 39.1h1.6v1.2h-1.6zM356.35 39.1h1.6v1.2h-1.6zM363.2 39.1h1.6v1.2h-1.6zM370.05 39.1h1.6v1.2h-1.6zM376.9 39.1h1.6v1.2h-1.6zM383.75 39.1h1.6v1.2h-1.6zM390.6 39.1h1.6v1.2h-1.6zM397.45 39.1h1.6v1.2h-1.6zM404.3 39.1h1.6v1.2h-1.6zM411.15 39.1h1.6v1.2h-1.6zM418 39.1h1.6v1.2h-1.6zM424.85 39.1h1.6v1.2h-1.6zM431.7 39.1h1.6v1.2h-1.6zM438.55 39.1h1.6v1.2h-1.6zM445.4 39.1h1.6v1.2h-1.6zM452.25 39.1h1.6v1.2h-1.6zM459.1 39.1h1.6v1.2h-1.6zM465.95 39.1h1.6v1.2h-1.6zM472.8 39.1h1.6v1.2h-1.6zM479.65 39.1h1.6v1.2h-1.6zM486.5 39.1h1.6v1.2h-1.6zM493.35 39.1h1.6v1.2h-1.6zM500.2 39.1h1.6v1.2h-1.6zM507.05 39.1h1.6v1.2h-1.6zM513.9 39.1h1.6v1.2h-1.6zM520.75 39.1h1.6v1.2h-1.6zM527.6 39.1h1.6v1.2h-1.6zM534.45 39.1h1.6v1.2h-1.6zM541.3 39.1h1.6v1.2h-1.6zM548.15 39.1h1.6v1.2h-1.6zM555 39.1h1.6v1.2h-1.6zM561.85 39.1h1.6v1.2h-1.6zM568.7 39.1h1.6v1.2h-1.6zM575.55 39.1h1.6v1.2h-1.6zM582.4 39.1h1.6v1.2h-1.6zM589.25 39.1h1.6v1.2h-1.6zM596.1 39.1h1.6v1.2h-1.6zM602.95 39.1h1.6v1.2h-1.6zM609.8 39.1h1.6v1.2h-1.6zM616.65 39.1h1.6v1.2h-1.6zM623.5 39.1h1.6v1.2h-1.6zM630.35 39.1h1.6v1.2h-1.6zM637.2 39.1h1.6v1.2h-1.6zM644.05 39.1h1.6v1.2h-1.6zM650.9 39.1h1.6v1.2h-1.6zM657.75 39.1h1.6v1.2h-1.6zM664.6 39.1h1.6v1.2h-1.6zM671.45 39.1h1.6v1.2h-1.6zM678.3 39.1h1.6v1.2h-1.6zM685.15 39.1h1.6v1.2h-1.6zM692 39.1h1.6v1.2h-1.6zM698.85 39.1h1.6v1.2h-1.6zM705.7 39.1h1.6v1.2h-1.6zM712.55 39.1h1.6v1.2h-1.6zM719.4 39.1h1.6v1.2h-1.6zM726.25 39.1h1.6v1.2h-1.6zM733.1 39.1h1.6v1.2h-1.6zM739.95 39.1h1.6v1.2h-1.6zM746.8 39.1h1.6v1.2h-1.6zM753.65 39.1h1.6v1.2h-1.6zM760.5 39.1h1.6v1.2h-1.6zM767.35 39.1h1.6v1.2h-1.6zM774.2 39.1h1.6v1.2h-1.6zM781.05 39.1h1.6v1.2h-1.6zM787.9 39.1h1.6v1.2h-1.6zM794.75 39.1h1.6v1.2h-1.6zM801.6 39.1h1.6v1.2h-1.6zM808.45 39.1h1.6v1.2h-1.6zM815.3 39.1h1.6v1.2h-1.6zM822.15 39.1h1.6v1.2h-1.6zM829 39.1h1.6v1.2h-1.6zM835.85 39.1h1.6v1.2h-1.6zM842.7 39.1h1.6v1.2h-1.6zM849.55 39.1h1.6v1.2h-1.6zM856.4 39.1h1.6v1.2h-1.6zM863.25 39.1h1.6v1.2h-1.6zM870.1 39.1h1.6v1.2h-1.6zM876.95 39.1h1.6v1.2h-1.6zM883.8 39.1h1.6v1.2h-1.6z" fill="#000"/>
<text class="sans" transform="translate(71.6 42.7) scale(0.8344 1)" font-size="16.8" fill="#000" stroke="#000" stroke-width="0.4">2500</text>
<text class="sans" transform="translate(71.6 102.08) scale(0.8344 1)" font-size="16.8" fill="#000" stroke="#000" stroke-width="0.4">2000</text>
<text class="sans" transform="translate(71.24 161.46) scale(0.8443 1)" font-size="16.8" fill="#000" stroke="#000" stroke-width="0.4">1500</text>
<text class="sans" transform="translate(71.24 220.84) scale(0.8443 1)" font-size="16.8" fill="#000" stroke="#000" stroke-width="0.4">1000</text>
<text class="sans" transform="translate(79.39 280.22) scale(0.8367 1)" font-size="16.8" fill="#000" stroke="#000" stroke-width="0.4">500</text>
<text class="sans" transform="translate(94.66 339.6) scale(0.8743 1)" font-size="16.8" fill="#000" stroke="#000" stroke-width="0.4">0</text>
<text class="sans" transform="translate(112.49 370.8) scale(0.8743 1)" font-size="16.8" fill="#000" stroke="#000" stroke-width="0.4">0</text>
<text class="sans" transform="translate(234.63 370.8) scale(0.8835 1)" font-size="16.8" fill="#000" stroke="#000" stroke-width="0.4">5</text>
<text class="sans" transform="translate(352.45 370.8) scale(0.8750 1)" font-size="16.8" fill="#000" stroke="#000" stroke-width="0.4">10</text>
<text class="sans" transform="translate(474.59 370.8) scale(0.8794 1)" font-size="16.8" fill="#000" stroke="#000" stroke-width="0.4">15</text>
<text class="sans" transform="translate(597.13 370.8) scale(0.8537 1)" font-size="16.8" fill="#000" stroke="#000" stroke-width="0.4">20</text>
<text class="sans" transform="translate(719.28 370.8) scale(0.8578 1)" font-size="16.8" fill="#000" stroke="#000" stroke-width="0.4">25</text>
<text class="sans" transform="translate(841.58 370.8) scale(0.8454 1)" font-size="16.8" fill="#000" stroke="#000" stroke-width="0.4">30</text>
<text class="serif" transform="translate(440.54 390.8) scale(0.9543 1)" font-size="24" fill="#000" stroke="#000" stroke-width="0.3">Time(min)</text>
<text class="serif" transform="translate(48.2 55.28) rotate(90) scale(0.9373 1)" font-size="25.5" fill="#000" stroke="#000" stroke-width="0.35">Fluorescens intensity(m V)</text>
<path d="M142,336.24 L145,336.23 L148,336.23 L151,336.23 L154,336.22 L157,336.22 L160,336.22 L163,336.22 L166,336.21 L169,336.21 L172,336.21 L175,336.21 L178,336.2 L181,336.2 L184,336.2 L187,336.2 L190,336.2 L193,336.19 L196,336.19 L199,336.19 L202,336.19 L205,336.19 L208,336.19 L211,336.18 L214,336.18 L217,336.18 L220,336.18 L223,336.18 L226,336.18 L229,336.18 L232,336.17 L235,336.17 L238,336.17 L241,336.17 L244,336.17 L247,336.17 L250,336.17 L253,336.17 L256,336.17 L259,336.17 L262,336.17 L265,336.16 L268,336.16 L271,336.16 L274,336.16 L277,336.16 L280,336.16 L283,336.16 L286,336.16 L289,336.16 L292,336.16 L295,336.16 L298,336.16 L301,336.16 L304,336.16 L307,336.16 L310,336.16 L313,336.16 L316,336.16 L319,336.16 L322,336.16 L325,336.16 L328,336.16 L331,336.16 L334,336.16 L337,336.16 L340,336.16 L343,336.16 L346,336.16 L349,336.16 L352,336.16 L355,336.16 L358,336.16 L361,336.16 L364,336.16 L367,336.16 L370,336.16 L373,336.16 L376,336.16 L379,336.16 L382,336.16 L385,336.16 L388,336.16 L391,336.16 L394,336.16 L397,336.16 L400,336.16 L403,336.16 L406,336.16 L409,336.16 L412,336.16 L415,336.16 L418,336.16 L421,336.16 L424,336.16 L427,336.16 L430,336.16 L433,336.16 L436,336.16 L439,336.16 L442,336.16 L445,336.16 L448,336.16 L451,336.16 L454,336.16 L457,336.16 L460,336.16 L463,336.16 L466,336.16 L469,336.16 L472,336.16 L475,336.16 L478,336.16 L481,336.16 L484,336.16 L487,336.16 L490,336.16 L493,336.16 L496,336.16 L499,336.16 L502,336.16 L505,336.16 L508,336.16 L511,336.16 L514,336.16 L517,336.16 L520,336.16 L523,336.16 L526,336.16 L529,336.16 L532,336.15 L535,336.15 L538,336.15 L541,336.15 L544,336.15 L547,336.15 L550,336.15 L553,336.15 L556,336.15 L559,336.14 L562,336.14 L565,336.14 L568,336.14 L571,336.14 L574,336.14 L577,336.13 L580,336.13 L583,336.13 L586,336.13 L589,336.13 L592,336.13 L595,336.12 L598,336.12 L601,336.12 L604,336.12 L607,336.11 L610,336.11 L613,336.11 L616,336.11 L619,336.1 L622,336.1 L625,336.1 L628,336.1 L631,336.09 L634,336.09 L637,336.09 L640,336.08 L643,336.08 L646,336.08 L649,336.07 L652,336.07 L655,336.07 L658,336.06 L661,336.06 L664,336.06 L667,336.05 L670,336.05 L673,336.04 L676,336.04 L679,336.03 L682,336.03 L685,336.03 L688,336.02 L691,336.02 L694,336.01 L697,336.01 L700,336 L703,336 L706,335.99 L709,335.99 L712,335.98 L715,335.98 L718,335.97 L721,335.96 L724,335.96 L727,335.95 L730,335.95 L733,335.94 L736,335.93 L739,335.93 L742,335.92 L745,335.91 L748,335.91 L751,335.9 L754,335.89 L757,335.89 L760,335.88 L763,335.87 L766,335.86 L769,335.86 L772,335.85 L775,335.84 L778,335.83 L781,335.83 L784,335.82 L787,335.81 L790,335.8 L793,335.79 L796,335.78 L799,335.77 L802,335.77 L805,335.76 L808,335.75 L811,335.74 L814,335.73 L817,335.72 L820,335.71 L823,335.7 L826,335.69 L829,335.68 L832,335.67 L835,335.66 L838,335.65 L841,335.64 L844,335.62 L847,335.61 L849.5,335.6" stroke="#6a2a8a" stroke-width="1.6" fill="none" stroke-linejoin="round"/>
<path d="M142,339 L145,338.9 L148,338.8 L151,338.7 L154,338.61 L157,338.51 L160,338.42 L163,338.33 L166,338.24 L169,338.16 L172,338.07 L175,337.99 L178,337.91 L181,337.83 L184,337.76 L187,337.68 L190,337.61 L193,337.54 L196,337.47 L199,337.41 L202,337.34 L205,337.28 L208,337.22 L211,337.16 L214,337.1 L217,337.04 L220,336.99 L223,336.93 L226,336.88 L229,336.83 L232,336.78 L235,336.74 L238,336.69 L241,336.65 L244,336.6 L247,336.56 L250,336.52 L253,336.49 L256,336.45 L259,336.41 L262,336.38 L265,336.35 L268,336.32 L271,336.29 L274,336.26 L277,336.23 L280,336.2 L283,336.18 L286,336.16 L289,336.13 L292,336.11 L295,336.09 L298,336.07 L301,336.05 L304,336.04 L307,336.02 L310,336.01 L313,335.99 L316,335.98 L319,335.97 L322,335.96 L325,335.95 L328,335.94 L331,335.93 L334,335.92 L337,335.92 L340,335.91 L343,335.91 L346,335.9 L349,335.9 L352,335.9 L355,335.89 L358,335.89 L361,335.89 L364,335.89 L367,335.9 L370,335.9 L373,335.9 L376,335.9 L379,335.91 L382,335.91 L385,335.91 L388,335.92 L391,335.93 L394,335.93 L397,335.94 L400,335.95 L403,335.95 L406,335.96 L409,335.97 L412,335.98 L415,335.99 L418,336 L421,336.01 L424,336.02 L427,336.03 L430,336.04 L433,336.05 L436,336.06 L439,336.07 L442,336.08 L445,336.09 L448,336.1 L451,336.11 L454,336.12 L457,336.14 L460,336.15 L463,336.16 L466,336.17 L469,336.18 L472,336.19 L475,336.21 L478,336.22 L481,336.23 L484,336.24 L487,336.25 L490,336.26 L493,336.27 L496,336.28 L499,336.29 L502,336.3 L505,336.31 L508,336.32 L511,336.33 L514,336.34 L517,336.35 L520,336.36 L523,336.37 L526,336.37 L529,336.38 L532,336.39 L535,336.4 L538,336.4 L541,336.41 L544,336.42 L547,336.42 L550,336.43 L553,336.43 L556,336.44 L559,336.44 L562,336.45 L565,336.45 L568,336.46 L571,336.46 L574,336.47 L577,336.47 L580,336.47 L583,336.47 L586,336.48 L589,336.48 L592,336.48 L595,336.48 L598,336.48 L601,336.48 L604,336.49 L607,336.49 L610,336.49 L613,336.49 L616,336.48 L619,336.48 L622,336.48 L625,336.48 L628,336.48 L631,336.48 L634,336.47 L637,336.47 L640,336.47 L643,336.47 L646,336.46 L649,336.46 L652,336.45 L655,336.45 L658,336.44 L661,336.44 L664,336.43 L667,336.43 L670,336.42 L673,336.41 L676,336.41 L679,336.4 L682,336.39 L685,336.38 L688,336.38 L691,336.37 L694,336.36 L697,336.35 L700,336.34 L703,336.33 L706,336.32 L709,336.31 L712,336.3 L715,336.29 L718,336.27 L721,336.26 L724,336.25 L727,336.24 L730,336.22 L733,336.21 L736,336.19 L739,336.18 L742,336.17 L745,336.15 L748,336.14 L751,336.12 L754,336.1 L757,336.09 L760,336.07 L763,336.05 L766,336.03 L769,336.02 L772,336 L775,335.98 L778,335.96 L781,335.94 L784,335.92 L787,335.9 L790,335.88 L793,335.86 L796,335.84 L799,335.82 L802,335.79 L805,335.77 L808,335.75 L811,335.72 L814,335.7 L817,335.68 L820,335.65 L823,335.63 L826,335.6 L829,335.57 L832,335.55 L835,335.52 L838,335.49 L841,335.47 L844,335.44 L847,335.41 L849.5,335.39" stroke="#b3208e" stroke-width="1.6" fill="none" stroke-linejoin="round"/>
<path d="M142,336.34 L145,336.25 L148,336.16 L151,336.08 L154,335.99 L157,335.92 L160,335.85 L163,335.78 L166,335.71 L169,335.65 L172,335.59 L175,335.54 L178,335.49 L181,335.44 L184,335.39 L187,335.35 L190,335.31 L193,335.28 L196,335.25 L199,335.22 L202,335.19 L205,335.16 L208,335.14 L211,335.12 L214,335.11 L217,335.09 L220,335.08 L223,335.07 L226,335.07 L229,335.06 L232,335.06 L235,335.06 L238,335.06 L241,335.06 L244,335.07 L247,335.08 L250,335.08 L253,335.09 L256,335.11 L259,335.12 L262,335.13 L265,335.15 L268,335.17 L271,335.19 L274,335.21 L277,335.23 L280,335.25 L283,335.27 L286,335.29 L289,335.32 L292,335.34 L295,335.37 L298,335.39 L301,335.42 L304,335.45 L307,335.48 L310,335.5 L313,335.53 L316,335.56 L319,335.59 L322,335.61 L325,335.64 L328,335.67 L331,335.7 L334,335.73 L337,335.75 L340,335.78 L343,335.81 L346,335.83 L349,335.86 L352,335.88 L355,335.9 L358,335.93 L361,335.95 L364,335.97 L367,335.99 L370,336.01 L373,336.02 L376,336.04 L379,336.05 L382,336.07 L385,336.08 L388,336.09 L391,336.1 L394,336.11 L397,336.11 L400,336.12 L403,336.12 L406,336.12 L409,336.11 L412,336.11 L415,336.1 L418,336.09 L421,336.08 L424,336.07 L427,336.05 L430,336.03 L433,336.01 L436,335.99 L439,335.96 L442,335.93 L445,335.9 L448,335.87 L451,335.83 L454,335.79 L457,335.74 L460,335.69 L463,335.64 L466,335.59 L469,335.53 L472,335.47 L475,335.41 L478,335.34 L481,335.26 L484,335.19 L487,335.11 L490,335.02 L493,334.94 L496,334.85 L499,334.75 L502,334.65 L505,334.54 L508,334.44 L511,334.32 L514,334.2 L517,334.08 L520,333.96 L523,333.82 L526,333.69 L529,333.55 L532,333.4 L535,333.25 L538,333.09 L541,332.93 L544,332.76 L547,332.59 L550,332.42 L553,332.23 L556,332.05 L559,331.85 L562,331.65 L565,331.45 L568,331.24 L571,331.02 L574,330.8 L577,330.57 L580,330.34 L583,330.1 L586,329.85 L589,329.6 L592,329.34 L595,329.07 L598,328.8 L601,328.52 L604,328.24 L607,327.94 L610,327.65 L613,327.34 L616,327.03 L619,326.71 L622,326.38 L625,326.05 L628,325.71 L631,325.36 L634,325.01 L637,324.65 L640,324.28 L643,323.9 L646,323.51 L649,323.12 L652,322.72 L655,322.31 L658,321.9 L661,321.47 L664,321.04 L667,320.6 L670,320.15 L673,319.7 L676,319.23 L679,318.76 L682,318.28 L685,317.79 L688,317.29 L691,316.79 L694,316.27 L697,315.75 L700,315.21 L703,314.67 L706,314.12 L709,313.56 L712,312.99 L715,312.41 L718,311.82 L721,311.23 L724,310.62 L727,310 L730,309.38 L733,308.74 L736,308.1 L739,307.44 L742,306.78 L745,306.11 L748,305.42 L751,304.73 L754,304.02 L757,303.31 L760,302.58 L763,301.85 L766,301.1 L769,300.35 L772,299.58 L775,298.8 L778,298.02 L781,297.22 L784,296.41 L787,295.59 L790,294.76 L793,293.92 L796,293.06 L799,292.2 L802,291.32 L805,290.44 L808,289.54 L811,288.63 L814,287.71 L817,286.77 L820,285.83 L823,284.87 L826,283.91 L829,282.93 L832,281.93 L835,280.93 L838,279.92 L841,278.89 L844,277.85 L847,276.79 L849.5,275.91" stroke="#2d6b2d" stroke-width="1.5" fill="none" stroke-linejoin="round"/>
<path d="M142,336.2 L145,336.12 L148,336.05 L151,335.97 L154,335.9 L157,335.84 L160,335.77 L163,335.71 L166,335.65 L169,335.6 L172,335.55 L175,335.5 L178,335.45 L181,335.41 L184,335.37 L187,335.33 L190,335.29 L193,335.26 L196,335.23 L199,335.2 L202,335.18 L205,335.15 L208,335.13 L211,335.11 L214,335.1 L217,335.08 L220,335.07 L223,335.06 L226,335.06 L229,335.05 L232,335.05 L235,335.05 L238,335.05 L241,335.05 L244,335.05 L247,335.06 L250,335.07 L253,335.08 L256,335.09 L259,335.1 L262,335.11 L265,335.13 L268,335.14 L271,335.16 L274,335.18 L277,335.2 L280,335.22 L283,335.25 L286,335.27 L289,335.3 L292,335.32 L295,335.35 L298,335.38 L301,335.41 L304,335.44 L307,335.47 L310,335.5 L313,335.53 L316,335.57 L319,335.6 L322,335.63 L325,335.67 L328,335.7 L331,335.74 L334,335.77 L337,335.81 L340,335.85 L343,335.88 L346,335.92 L349,335.96 L352,335.99 L355,336.03 L358,336.07 L361,336.11 L364,336.14 L367,336.18 L370,336.22 L373,336.25 L376,336.29 L379,336.32 L382,336.36 L385,336.39 L388,336.43 L391,336.46 L394,336.49 L397,336.53 L400,336.56 L403,336.59 L406,336.62 L409,336.65 L412,336.68 L415,336.71 L418,336.73 L421,336.76 L424,336.78 L427,336.81 L430,336.83 L433,336.85 L436,336.87 L439,336.89 L442,336.91 L445,336.92 L448,336.94 L451,336.95 L454,336.96 L457,336.97 L460,336.98 L463,336.98 L466,336.99 L469,336.99 L472,336.99 L475,336.99 L478,336.99 L481,336.99 L484,336.98 L487,336.97 L490,336.96 L493,336.95 L496,336.93 L499,336.91 L502,336.89 L505,336.87 L508,336.85 L511,336.82 L514,336.79 L517,336.76 L520,336.72 L523,336.69 L526,336.65 L529,336.61 L532,336.56 L535,336.51 L538,336.46 L541,336.41 L544,336.35 L547,336.29 L550,336.23 L553,336.16 L556,336.09 L559,336.02 L562,335.94 L565,335.86 L568,335.78 L571,335.7 L574,335.61 L577,335.51 L580,335.42 L583,335.32 L586,335.21 L589,335.11 L592,335 L595,334.88 L598,334.76 L601,334.64 L604,334.52 L607,334.38 L610,334.25 L613,334.11 L616,333.97 L619,333.82 L622,333.67 L625,333.52 L628,333.36 L631,333.19 L634,333.03 L637,332.85 L640,332.68 L643,332.5 L646,332.31 L649,332.12 L652,331.92 L655,331.72 L658,331.52 L661,331.31 L664,331.09 L667,330.87 L670,330.65 L673,330.42 L676,330.19 L679,329.95 L682,329.7 L685,329.45 L688,329.19 L691,328.93 L694,328.67 L697,328.4 L700,328.12 L703,327.84 L706,327.55 L709,327.26 L712,326.96 L715,326.65 L718,326.34 L721,326.03 L724,325.7 L727,325.38 L730,325.04 L733,324.7 L736,324.36 L739,324 L742,323.65 L745,323.28 L748,322.91 L751,322.53 L754,322.15 L757,321.76 L760,321.37 L763,320.96 L766,320.56 L769,320.14 L772,319.72 L775,319.29 L778,318.86 L781,318.41 L784,317.97 L787,317.51 L790,317.05 L793,316.58 L796,316.1 L799,315.62 L802,315.13 L805,314.63 L808,314.13 L811,313.61 L814,313.1 L817,312.57 L820,312.04 L823,311.49 L826,310.95 L829,310.39 L832,309.83 L835,309.26 L838,308.68 L841,308.09 L844,307.5 L847,306.89 L849.5,306.39" stroke="#2a2760" stroke-width="1.6" fill="none" stroke-linejoin="round"/>
<path d="M142,332.2 L145,332.28 L148,332.37 L151,332.45 L154,332.53 L157,332.62 L160,332.7 L163,332.79 L166,332.87 L169,332.96 L172,333.04 L175,333.13 L178,333.21 L181,333.3 L184,333.39 L187,333.47 L190,333.56 L193,333.64 L196,333.73 L199,333.82 L202,333.9 L205,333.98 L208,334.07 L211,334.15 L214,334.24 L217,334.32 L220,334.4 L223,334.48 L226,334.56 L229,334.64 L232,334.72 L235,334.8 L238,334.88 L241,334.96 L244,335.03 L247,335.1 L250,335.18 L253,335.25 L256,335.32 L259,335.39 L262,335.46 L265,335.52 L268,335.59 L271,335.65 L274,335.71 L277,335.77 L280,335.83 L283,335.89 L286,335.94 L289,336 L292,336.05 L295,336.1 L298,336.14 L301,336.19 L304,336.23 L307,336.27 L310,336.31 L313,336.35 L316,336.38 L319,336.41 L322,336.44 L325,336.47 L328,336.49 L331,336.51 L334,336.53 L337,336.55 L340,336.56 L343,336.57 L346,336.58 L349,336.58 L352,336.59 L355,336.58 L358,336.58 L361,336.57 L364,336.56 L367,336.55 L370,336.53 L373,336.51 L376,336.48 L379,336.46 L382,336.42 L385,336.39 L388,336.35 L391,336.31 L394,336.26 L397,336.21 L400,336.16 L403,336.1 L406,336.04 L409,335.97 L412,335.9 L415,335.83 L418,335.75 L421,335.67 L424,335.58 L427,335.49 L430,335.4 L433,335.3 L436,335.19 L439,335.08 L442,334.96 L445,334.83 L448,334.7 L451,334.57 L454,334.42 L457,334.27 L460,334.11 L463,333.95 L466,333.77 L469,333.59 L472,333.4 L475,333.2 L478,333 L481,332.78 L484,332.56 L487,332.32 L490,332.07 L493,331.82 L496,331.55 L499,331.28 L502,330.99 L505,330.69 L508,330.38 L511,330.06 L514,329.73 L517,329.39 L520,329.03 L523,328.66 L526,328.28 L529,327.88 L532,327.48 L535,327.05 L538,326.62 L541,326.17 L544,325.7 L547,325.23 L550,324.73 L553,324.22 L556,323.7 L559,323.16 L562,322.61 L565,322.04 L568,321.45 L571,320.85 L574,320.23 L577,319.59 L580,318.94 L583,318.26 L586,317.57 L589,316.87 L592,316.14 L595,315.41 L598,314.65 L601,313.88 L604,313.09 L607,312.29 L610,311.47 L613,310.64 L616,309.8 L619,308.94 L622,308.07 L625,307.18 L628,306.29 L631,305.38 L634,304.46 L637,303.52 L640,302.58 L643,301.62 L646,300.66 L649,299.68 L652,298.69 L655,297.7 L658,296.69 L661,295.67 L664,294.65 L667,293.62 L670,292.58 L673,291.53 L676,290.48 L679,289.42 L682,288.35 L685,287.27 L688,286.19 L691,285.11 L694,284.02 L697,282.92 L700,281.82 L703,280.72 L706,279.61 L709,278.49 L712,277.38 L715,276.26 L718,275.14 L721,274.01 L724,272.89 L727,271.76 L730,270.63 L733,269.51 L736,268.38 L739,267.25 L742,266.12 L745,265 L748,263.88 L751,262.77 L754,261.66 L757,260.55 L760,259.46 L763,258.37 L766,257.29 L769,256.22 L772,255.16 L775,254.11 L778,253.07 L781,252.04 L784,251.03 L787,250.04 L790,249.06 L793,248.09 L796,247.14 L799,246.21 L802,245.3 L805,244.41 L808,243.54 L811,242.69 L814,241.86 L817,241.05 L820,240.27 L823,239.52 L826,238.78 L829,238.08 L832,237.4 L835,236.75 L838,236.13 L841,235.54 L844,234.97 L847,234.44 L849.5,234.03" stroke="#ff3a9c" stroke-width="1.45" fill="none" stroke-linejoin="round"/>
<path d="M142,341.42 L145,341.08 L148,340.75 L151,340.43 L154,340.11 L157,339.81 L160,339.51 L163,339.22 L166,338.93 L169,338.65 L172,338.38 L175,338.12 L178,337.87 L181,337.62 L184,337.37 L187,337.13 L190,336.9 L193,336.68 L196,336.46 L199,336.24 L202,336.03 L205,335.83 L208,335.63 L211,335.43 L214,335.24 L217,335.05 L220,334.87 L223,334.69 L226,334.51 L229,334.34 L232,334.17 L235,334.01 L238,333.84 L241,333.68 L244,333.53 L247,333.37 L250,333.22 L253,333.06 L256,332.91 L259,332.77 L262,332.62 L265,332.47 L268,332.33 L271,332.18 L274,332.04 L277,331.9 L280,331.76 L283,331.61 L286,331.47 L289,331.33 L292,331.18 L295,331.04 L298,330.89 L301,330.75 L304,330.6 L307,330.45 L310,330.3 L313,330.14 L316,329.99 L319,329.83 L322,329.67 L325,329.51 L328,329.35 L331,329.18 L334,329.01 L337,328.83 L340,328.65 L343,328.47 L346,328.28 L349,328.09 L352,327.9 L355,327.7 L358,327.5 L361,327.29 L364,327.08 L367,326.86 L370,326.63 L373,326.4 L376,326.17 L379,325.92 L382,325.68 L385,325.42 L388,325.16 L391,324.89 L394,324.62 L397,324.33 L400,324.04 L403,323.75 L406,323.44 L409,323.13 L412,322.81 L415,322.48 L418,322.14 L421,321.8 L424,321.44 L427,321.08 L430,320.7 L433,320.32 L436,319.93 L439,319.52 L442,319.11 L445,318.69 L448,318.26 L451,317.81 L454,317.36 L457,316.89 L460,316.42 L463,315.93 L466,315.43 L469,314.92 L472,314.4 L475,313.86 L478,313.31 L481,312.75 L484,312.18 L487,311.59 L490,311 L493,310.38 L496,309.76 L499,309.12 L502,308.47 L505,307.8 L508,307.12 L511,306.43 L514,305.72 L517,304.99 L520,304.25 L523,303.5 L526,302.73 L529,301.94 L532,301.14 L535,300.32 L538,299.49 L541,298.64 L544,297.78 L547,296.89 L550,296 L553,295.08 L556,294.15 L559,293.2 L562,292.23 L565,291.24 L568,290.24 L571,289.21 L574,288.17 L577,287.11 L580,286.04 L583,284.94 L586,283.82 L589,282.69 L592,281.53 L595,280.36 L598,279.17 L601,277.95 L604,276.72 L607,275.46 L610,274.19 L613,272.89 L616,271.58 L619,270.24 L622,268.89 L625,267.52 L628,266.13 L631,264.72 L634,263.3 L637,261.86 L640,260.4 L643,258.92 L646,257.43 L649,255.92 L652,254.4 L655,252.86 L658,251.31 L661,249.75 L664,248.16 L667,246.57 L670,244.96 L673,243.34 L676,241.71 L679,240.06 L682,238.41 L685,236.74 L688,235.06 L691,233.37 L694,231.66 L697,229.95 L700,228.23 L703,226.5 L706,224.76 L709,223.01 L712,221.25 L715,219.49 L718,217.71 L721,215.93 L724,214.14 L727,212.35 L730,210.55 L733,208.74 L736,206.93 L739,205.12 L742,203.3 L745,201.48 L748,199.66 L751,197.85 L754,196.04 L757,194.23 L760,192.42 L763,190.63 L766,188.84 L769,187.05 L772,185.28 L775,183.52 L778,181.77 L781,180.04 L784,178.32 L787,176.61 L790,174.92 L793,173.25 L796,171.6 L799,169.97 L802,168.36 L805,166.77 L808,165.21 L811,163.67 L814,162.16 L817,160.68 L820,159.22 L823,157.79 L826,156.4 L829,155.04 L832,153.71 L835,152.41 L838,151.15 L841,149.93 L844,148.75 L847,147.6 L849.5,146.68" stroke="#7b2150" stroke-width="1.45" fill="none" stroke-linejoin="round"/>
<path d="M142,335.64 L145,335.45 L148,335.27 L151,335.1 L154,334.94 L157,334.78 L160,334.63 L163,334.48 L166,334.34 L169,334.21 L172,334.08 L175,333.95 L178,333.83 L181,333.72 L184,333.61 L187,333.5 L190,333.39 L193,333.29 L196,333.19 L199,333.09 L202,332.99 L205,332.9 L208,332.8 L211,332.71 L214,332.61 L217,332.52 L220,332.43 L223,332.33 L226,332.23 L229,332.14 L232,332.04 L235,331.94 L238,331.83 L241,331.73 L244,331.62 L247,331.5 L250,331.39 L253,331.26 L256,331.14 L259,331.01 L262,330.87 L265,330.73 L268,330.58 L271,330.43 L274,330.27 L277,330.1 L280,329.93 L283,329.75 L286,329.56 L289,329.36 L292,329.15 L295,328.94 L298,328.71 L301,328.48 L304,328.23 L307,327.98 L310,327.71 L313,327.44 L316,327.15 L319,326.85 L322,326.54 L325,326.21 L328,325.87 L331,325.52 L334,325.16 L337,324.78 L340,324.39 L343,323.99 L346,323.57 L349,323.13 L352,322.68 L355,322.21 L358,321.73 L361,321.23 L364,320.71 L367,320.18 L370,319.63 L373,319.06 L376,318.47 L379,317.87 L382,317.24 L385,316.6 L388,315.94 L391,315.25 L394,314.55 L397,313.82 L400,313.08 L403,312.31 L406,311.52 L409,310.71 L412,309.88 L415,309.03 L418,308.15 L421,307.25 L424,306.32 L427,305.37 L430,304.4 L433,303.4 L436,302.38 L439,301.33 L442,300.25 L445,299.15 L448,298.03 L451,296.88 L454,295.71 L457,294.51 L460,293.29 L463,292.06 L466,290.8 L469,289.52 L472,288.22 L475,286.9 L478,285.57 L481,284.22 L484,282.85 L487,281.47 L490,280.07 L493,278.66 L496,277.24 L499,275.8 L502,274.35 L505,272.89 L508,271.41 L511,269.93 L514,268.43 L517,266.93 L520,265.41 L523,263.89 L526,262.35 L529,260.8 L532,259.24 L535,257.68 L538,256.1 L541,254.51 L544,252.92 L547,251.32 L550,249.7 L553,248.08 L556,246.45 L559,244.81 L562,243.17 L565,241.51 L568,239.85 L571,238.18 L574,236.51 L577,234.82 L580,233.13 L583,231.44 L586,229.73 L589,228.02 L592,226.31 L595,224.59 L598,222.86 L601,221.12 L604,219.39 L607,217.64 L610,215.89 L613,214.14 L616,212.38 L619,210.62 L622,208.85 L625,207.07 L628,205.3 L631,203.52 L634,201.73 L637,199.95 L640,198.16 L643,196.36 L646,194.57 L649,192.77 L652,190.97 L655,189.16 L658,187.35 L661,185.55 L664,183.74 L667,181.92 L670,180.11 L673,178.29 L676,176.48 L679,174.66 L682,172.84 L685,171.03 L688,169.21 L691,167.39 L694,165.57 L697,163.75 L700,161.93 L703,160.11 L706,158.3 L709,156.48 L712,154.67 L715,152.85 L718,151.04 L721,149.24 L724,147.44 L727,145.65 L730,143.86 L733,142.09 L736,140.32 L739,138.57 L742,136.82 L745,135.1 L748,133.38 L751,131.68 L754,130 L757,128.34 L760,126.7 L763,125.07 L766,123.47 L769,121.89 L772,120.34 L775,118.81 L778,117.3 L781,115.83 L784,114.38 L787,112.96 L790,111.57 L793,110.22 L796,108.89 L799,107.6 L802,106.35 L805,105.13 L808,103.95 L811,102.81 L814,101.71 L817,100.64 L820,99.62 L823,98.65 L826,97.72 L829,96.83 L832,95.99 L835,95.2 L838,94.45 L841,93.76 L844,93.12 L847,92.53 L849.5,92.08" stroke="#2a9df4" stroke-width="1.5" fill="none" stroke-linejoin="round"/>
<path d="M142,335.27 L145,335.08 L148,334.9 L151,334.72 L154,334.56 L157,334.39 L160,334.24 L163,334.09 L166,333.95 L169,333.81 L172,333.67 L175,333.54 L178,333.42 L181,333.3 L184,333.18 L187,333.06 L190,332.95 L193,332.84 L196,332.73 L199,332.62 L202,332.52 L205,332.41 L208,332.3 L211,332.2 L214,332.09 L217,331.98 L220,331.87 L223,331.76 L226,331.65 L229,331.53 L232,331.41 L235,331.29 L238,331.17 L241,331.04 L244,330.9 L247,330.76 L250,330.62 L253,330.47 L256,330.31 L259,330.15 L262,329.98 L265,329.8 L268,329.62 L271,329.43 L274,329.23 L277,329.02 L280,328.8 L283,328.57 L286,328.33 L289,328.08 L292,327.83 L295,327.56 L298,327.27 L301,326.98 L304,326.68 L307,326.36 L310,326.03 L313,325.68 L316,325.33 L319,324.95 L322,324.57 L325,324.17 L328,323.75 L331,323.32 L334,322.87 L337,322.4 L340,321.92 L343,321.42 L346,320.91 L349,320.37 L352,319.82 L355,319.25 L358,318.66 L361,318.05 L364,317.42 L367,316.76 L370,316.09 L373,315.4 L376,314.69 L379,313.95 L382,313.19 L385,312.41 L388,311.61 L391,310.78 L394,309.93 L397,309.06 L400,308.16 L403,307.23 L406,306.29 L409,305.32 L412,304.33 L415,303.31 L418,302.27 L421,301.2 L424,300.11 L427,299 L430,297.87 L433,296.71 L436,295.52 L439,294.31 L442,293.08 L445,291.83 L448,290.55 L451,289.25 L454,287.92 L457,286.57 L460,285.19 L463,283.8 L466,282.37 L469,280.93 L472,279.46 L475,277.97 L478,276.45 L481,274.91 L484,273.34 L487,271.75 L490,270.14 L493,268.5 L496,266.84 L499,265.16 L502,263.45 L505,261.72 L508,259.96 L511,258.18 L514,256.38 L517,254.55 L520,252.7 L523,250.83 L526,248.93 L529,247 L532,245.06 L535,243.09 L538,241.09 L541,239.08 L544,237.04 L547,234.98 L550,232.9 L553,230.8 L556,228.68 L559,226.54 L562,224.38 L565,222.2 L568,220.01 L571,217.79 L574,215.56 L577,213.32 L580,211.06 L583,208.78 L586,206.49 L589,204.19 L592,201.87 L595,199.54 L598,197.2 L601,194.84 L604,192.48 L607,190.1 L610,187.71 L613,185.32 L616,182.91 L619,180.51 L622,178.09 L625,175.68 L628,173.26 L631,170.84 L634,168.42 L637,166 L640,163.59 L643,161.18 L646,158.78 L649,156.38 L652,153.99 L655,151.62 L658,149.25 L661,146.89 L664,144.55 L667,142.23 L670,139.92 L673,137.63 L676,135.35 L679,133.1 L682,130.87 L685,128.66 L688,126.48 L691,124.32 L694,122.18 L697,120.07 L700,117.99 L703,115.94 L706,113.91 L709,111.9 L712,109.93 L715,107.98 L718,106.06 L721,104.16 L724,102.3 L727,100.46 L730,98.65 L733,96.87 L736,95.12 L739,93.4 L742,91.7 L745,90.04 L748,88.41 L751,86.81 L754,85.23 L757,83.69 L760,82.18 L763,80.7 L766,79.26 L769,77.84 L772,76.46 L775,75.11 L778,73.79 L781,72.5 L784,71.25 L787,70.03 L790,68.85 L793,67.69 L796,66.58 L799,65.49 L802,64.45 L805,63.43 L808,62.45 L811,61.51 L814,60.6 L817,59.73 L820,58.9 L823,58.1 L826,57.34 L829,56.61 L832,55.92 L835,55.27 L838,54.66 L841,54.09 L844,53.55 L847,53.05 L849.5,52.67" stroke="#ff1f1f" stroke-width="1.5" fill="none" stroke-linejoin="round"/>
<path d="M141.8 316.7H849.5" stroke="#0b1f6b" stroke-width="2.2" fill="none"/>
<circle cx="868.7" cy="62.4" r="7.6" fill="#fff" stroke="#111" stroke-width="1.3"/><text class="sans" transform="translate(865.31 66.4) scale(1.0000 1)" font-size="11.6" fill="#000" stroke="#000" stroke-width="0.45">1</text>
<circle cx="867.2" cy="96.3" r="7.6" fill="#fff" stroke="#111" stroke-width="1.3"/><text class="sans" transform="translate(863.98 100.36) scale(1.0000 1)" font-size="11.6" fill="#000" stroke="#000" stroke-width="0.45">2</text>
<circle cx="865.8" cy="149.4" r="7.6" fill="#fff" stroke="#111" stroke-width="1.3"/><text class="sans" transform="translate(862.58 153.4) scale(1.0000 1)" font-size="11.6" fill="#000" stroke="#000" stroke-width="0.45">3</text>
<circle cx="865.8" cy="229.4" r="7.6" fill="#fff" stroke="#111" stroke-width="1.3"/><text class="sans" transform="translate(862.64 233.4) scale(1.0000 1)" font-size="11.6" fill="#000" stroke="#000" stroke-width="0.45">4</text>
<circle cx="865.8" cy="279.2" r="7.6" fill="#fff" stroke="#111" stroke-width="1.3"/><text class="sans" transform="translate(862.58 283.14) scale(1.0000 1)" font-size="11.6" fill="#000" stroke="#000" stroke-width="0.45">5</text>
<circle cx="865.3" cy="309.5" r="7.6" fill="#fff" stroke="#111" stroke-width="1.3"/><text class="sans" transform="translate(862.02 313.5) scale(1.0000 1)" font-size="11.6" fill="#000" stroke="#000" stroke-width="0.45">6</text>
<circle cx="858.5" cy="333.2" r="7.6" fill="#fff" stroke="#555" stroke-width="1.0"/><text class="sans" transform="translate(855.28 337.2) scale(1.0000 1)" font-size="11.6" fill="#000" stroke="#000" stroke-width="0.45">7</text>
<circle cx="876.3" cy="333.2" r="7.6" fill="#fff" stroke="#555" stroke-width="1.0"/><text class="sans" transform="translate(873.05 337.2) scale(1.0000 1)" font-size="11.6" fill="#000" stroke="#000" stroke-width="0.45">8</text>
<text class="sans" transform="translate(910.71 35) scale(0.9640 1)" font-size="31.8" font-weight="bold" fill="#000">B</text>
<rect x="957" y="37.3" width="815" height="344" fill="#eaf3fc"/>
<rect x="1003" y="304.68" width="759.7" height="48.62" fill="#edf5fd"/>
<rect x="1003" y="256.07" width="759.7" height="48.62" fill="#e7edf5"/>
<rect x="1003" y="207.45" width="759.7" height="48.62" fill="#edf5fd"/>
<rect x="1003" y="158.84" width="759.7" height="48.62" fill="#e7edf5"/>
<rect x="1003" y="110.22" width="759.7" height="48.62" fill="#edf5fd"/>
<rect x="1003" y="61.6" width="759.7" height="48.62" fill="#e7edf5"/>
<path d="M1022.09 61.6V353.3M1041.58 61.6V353.3M1061.07 61.6V353.3M1080.56 61.6V353.3M1100.05 61.6V353.3M1119.54 61.6V353.3M1139.03 61.6V353.3M1158.52 61.6V353.3M1178.01 61.6V353.3M1197.5 61.6V353.3M1216.99 61.6V353.3M1236.48 61.6V353.3M1255.97 61.6V353.3M1275.46 61.6V353.3M1294.95 61.6V353.3M1314.44 61.6V353.3M1333.93 61.6V353.3M1353.42 61.6V353.3M1372.91 61.6V353.3M1392.4 61.6V353.3M1411.89 61.6V353.3M1431.38 61.6V353.3M1450.87 61.6V353.3M1470.36 61.6V353.3M1489.85 61.6V353.3M1509.34 61.6V353.3M1528.83 61.6V353.3M1548.32 61.6V353.3M1567.81 61.6V353.3M1587.3 61.6V353.3M1606.79 61.6V353.3M1626.28 61.6V353.3M1645.77 61.6V353.3M1665.26 61.6V353.3M1684.75 61.6V353.3M1704.24 61.6V353.3M1723.73 61.6V353.3M1743.22 61.6V353.3M1762.71 61.6V353.3" stroke="#dbe2ea" stroke-width="1" fill="none"/>
<path d="M1003 304.68H1762.7M1003 256.07H1762.7M1003 207.45H1762.7M1003 158.84H1762.7M1003 110.22H1762.7M1003 61.6H1762.7" stroke="#e2e8ef" stroke-width="1" fill="none"/>
<path d="M1003 61.6V353.3" stroke="#a4aaae" stroke-width="1.5" fill="none"/>
<path d="M1000.3 353.3H1003M1000.3 304.68H1003M1000.3 256.07H1003M1000.3 207.45H1003M1000.3 158.84H1003M1000.3 110.22H1003M1000.3 61.6H1003" stroke="#777" stroke-width="1" fill="none"/>
<text class="sans" transform="translate(994.11 355.7) scale(0.9317 1)" font-size="7.2" fill="#111">0</text>
<text class="sans" transform="translate(983.5 307.08) scale(0.8943 1)" font-size="7.2" fill="#111">2000</text>
<text class="sans" transform="translate(983.69 258.47) scale(0.8820 1)" font-size="7.2" fill="#111">4000</text>
<text class="sans" transform="translate(983.5 209.85) scale(0.8943 1)" font-size="7.2" fill="#111">6000</text>
<text class="sans" transform="translate(983.53 161.24) scale(0.8923 1)" font-size="7.2" fill="#111">8000</text>
<text class="sans" transform="translate(979.81 112.62) scale(0.8999 1)" font-size="7.2" fill="#111">10000</text>
<text class="sans" transform="translate(979.81 64) scale(0.8999 1)" font-size="7.2" fill="#111">12000</text>
<text class="sans" transform="translate(1000.43 363) scale(1.0281 1)" font-size="7.2" fill="#111">1</text>
<text class="sans" transform="translate(1078.68 363) scale(0.9415 1)" font-size="7.2" fill="#111">5</text>
<text class="sans" transform="translate(1174.13 363) scale(0.9361 1)" font-size="7.2" fill="#111">10</text>
<text class="sans" transform="translate(1271.58 363) scale(0.9408 1)" font-size="7.2" fill="#111">15</text>
<text class="sans" transform="translate(1369.21 363) scale(0.9133 1)" font-size="7.2" fill="#111">20</text>
<text class="sans" transform="translate(1466.66 363) scale(0.9178 1)" font-size="7.2" fill="#111">25</text>
<text class="sans" transform="translate(1564.18 363) scale(0.9045 1)" font-size="7.2" fill="#111">30</text>
<text class="sans" transform="translate(1661.63 363) scale(0.9088 1)" font-size="7.2" fill="#111">35</text>
<text class="sans" transform="translate(1759.21 363) scale(0.8873 1)" font-size="7.2" fill="#111">40</text>
<path d="M1002.6 353.3V356.3M1080.56 353.3V356.3M1178.01 353.3V356.3M1275.46 353.3V356.3M1372.91 353.3V356.3M1470.36 353.3V356.3M1567.81 353.3V356.3M1665.26 353.3V356.3M1762.71 353.3V356.3" stroke="#777" stroke-width="1" fill="none"/>
<text class="serif" transform="translate(1330.66 51.1) scale(1.0157 1)" font-size="14" font-weight="bold" fill="#000">Amplification</text>
<text class="serif" transform="translate(1340.89 376) scale(1.0124 1)" font-size="14" font-weight="bold" fill="#000">Time(min)</text>
<text class="serif" transform="translate(964.1 112.79) rotate(90) scale(0.9339 1)" font-size="15" font-weight="bold" fill="#000">Fluorescens intensity(m V)</text>
<path d="M1003 321.9H1762.7" stroke="#fff" stroke-opacity="0.75" stroke-width="4.6" fill="none"/>
<path d="M1003 321.9H1762.7" stroke="#62c4f2" stroke-width="2.1" fill="none"/>
<path d="M1003 321.9H1762.7" stroke="#1a8ae6" stroke-width="2.1" stroke-dasharray="9.6 1.1" fill="none"/>
<path d="M1003,348.8 L1007,348.95 L1011,349.09 L1015,349.24 L1019,349.38 L1023,349.53 L1027,349.68 L1031,349.82 L1035,349.97 L1039,350.12 L1043,350.26 L1047,350.41 L1051,350.55 L1055,350.7 L1059,350.85 L1063,350.99 L1067,351.14 L1071,351.28 L1075,351.43 L1079,351.58 L1083,351.72 L1087,351.87 L1091,352.02 L1095,352.16 L1099,352.31 L1103,352.45 L1107,352.6 L1111,352.6 L1115,352.6 L1119,352.6 L1123,352.6 L1127,352.6 L1131,352.6 L1135,352.6 L1139,352.6 L1143,352.6 L1147,352.6 L1151,352.6 L1155,352.6 L1159,352.6 L1163,352.6 L1167,352.6 L1171,352.6 L1175,352.6 L1179,352.6 L1183,352.6 L1187,352.6 L1191,352.6 L1195,352.6 L1199,352.6 L1203,352.6 L1207,352.6 L1211,352.6 L1215,352.6 L1219,352.6 L1223,352.6 L1227,352.6 L1231,352.6 L1235,352.6 L1239,352.6 L1243,352.6 L1247,352.6 L1251,352.6 L1255,352.6 L1259,352.6 L1263,352.6 L1267,352.6 L1271,352.6 L1275,352.6 L1279,352.6 L1283,352.6 L1287,352.6 L1291,352.6 L1295,352.6 L1299,352.6 L1303,352.6 L1307,352.6 L1311,352.6 L1315,352.6 L1319,352.6 L1323,352.6 L1327,352.6 L1331,352.6 L1335,352.6 L1339,352.6 L1343,352.6 L1347,352.6 L1351,352.6 L1355,352.6 L1359,352.6 L1363,352.6 L1367,352.6 L1371,352.6 L1375,352.6 L1379,352.6 L1383,352.6 L1387,352.6 L1391,352.6 L1395,352.6 L1399,352.6 L1403,352.6 L1407,352.6 L1411,352.6 L1415,352.6 L1419,352.6 L1423,352.6 L1427,352.6 L1431,352.6 L1435,352.6 L1439,352.6 L1443,352.6 L1447,352.6 L1451,352.6 L1455,352.6 L1459,352.6 L1463,352.6 L1467,352.6 L1471,352.6 L1475,352.6 L1479,352.6 L1483,352.6 L1487,352.6 L1491,352.6 L1495,352.6 L1499,352.6 L1503,352.6 L1507,352.6 L1511,352.6 L1515,352.6 L1519,352.6 L1523,352.6 L1527,352.59 L1531,352.59 L1535,352.58 L1539,352.58 L1543,352.57 L1547,352.55 L1551,352.53 L1555,352.51 L1559,352.48 L1563,352.43 L1567,352.37 L1571,352.3 L1575,352.21 L1579,352.09 L1583,351.95 L1587,351.77 L1591,351.56 L1595,351.31 L1599,351.01 L1603,350.65 L1607,350.23 L1611,349.75 L1615,349.19 L1619,348.55 L1623,347.82 L1627,347 L1631,346.09 L1635,345.07 L1639,343.93 L1643,342.69 L1647,341.32 L1651,339.84 L1655,338.23 L1659,336.49 L1663,334.63 L1667,332.64 L1671,330.52 L1675,328.27 L1679,325.9 L1683,323.41 L1687,320.8 L1691,318.08 L1695,315.24 L1699,312.3 L1703,309.26 L1707,306.12 L1711,302.9 L1715,299.59 L1719,296.21 L1723,292.77 L1727,289.26 L1731,285.71 L1735,282.1 L1739,278.46 L1743,274.79 L1747,271.09 L1751,267.38 L1755,263.65 L1759,259.92 L1762.7,256.48" stroke="#fff" stroke-opacity="0.55" stroke-width="3.35" fill="none" stroke-linejoin="round"/>
<path d="M1003,348.8 L1007,348.95 L1011,349.09 L1015,349.24 L1019,349.38 L1023,349.53 L1027,349.68 L1031,349.82 L1035,349.97 L1039,350.12 L1043,350.26 L1047,350.41 L1051,350.55 L1055,350.7 L1059,350.85 L1063,350.99 L1067,351.14 L1071,351.28 L1075,351.43 L1079,351.58 L1083,351.72 L1087,351.87 L1091,352.02 L1095,352.16 L1099,352.31 L1103,352.45 L1107,352.6 L1111,352.6 L1115,352.6 L1119,352.6 L1123,352.6 L1127,352.6 L1131,352.6 L1135,352.6 L1139,352.6 L1143,352.6 L1147,352.6 L1151,352.6 L1155,352.6 L1159,352.6 L1163,352.6 L1167,352.6 L1171,352.6 L1175,352.6 L1179,352.6 L1183,352.6 L1187,352.6 L1191,352.6 L1195,352.6 L1199,352.6 L1203,352.6 L1207,352.6 L1211,352.6 L1215,352.6 L1219,352.6 L1223,352.6 L1227,352.6 L1231,352.6 L1235,352.6 L1239,352.6 L1243,352.6 L1247,352.6 L1251,352.6 L1255,352.6 L1259,352.6 L1263,352.6 L1267,352.6 L1271,352.6 L1275,352.6 L1279,352.6 L1283,352.6 L1287,352.6 L1291,352.6 L1295,352.6 L1299,352.6 L1303,352.6 L1307,352.6 L1311,352.6 L1315,352.6 L1319,352.6 L1323,352.6 L1327,352.6 L1331,352.6 L1335,352.6 L1339,352.6 L1343,352.6 L1347,352.6 L1351,352.6 L1355,352.6 L1359,352.6 L1363,352.6 L1367,352.6 L1371,352.6 L1375,352.6 L1379,352.6 L1383,352.6 L1387,352.6 L1391,352.6 L1395,352.6 L1399,352.6 L1403,352.6 L1407,352.6 L1411,352.6 L1415,352.6 L1419,352.6 L1423,352.6 L1427,352.6 L1431,352.6 L1435,352.6 L1439,352.6 L1443,352.6 L1447,352.6 L1451,352.6 L1455,352.6 L1459,352.6 L1463,352.6 L1467,352.6 L1471,352.6 L1475,352.6 L1479,352.6 L1483,352.6 L1487,352.6 L1491,352.6 L1495,352.6 L1499,352.6 L1503,352.6 L1507,352.6 L1511,352.6 L1515,352.6 L1519,352.6 L1523,352.6 L1527,352.59 L1531,352.59 L1535,352.58 L1539,352.58 L1543,352.57 L1547,352.55 L1551,352.53 L1555,352.51 L1559,352.48 L1563,352.43 L1567,352.37 L1571,352.3 L1575,352.21 L1579,352.09 L1583,351.95 L1587,351.77 L1591,351.56 L1595,351.31 L1599,351.01 L1603,350.65 L1607,350.23 L1611,349.75 L1615,349.19 L1619,348.55 L1623,347.82 L1627,347 L1631,346.09 L1635,345.07 L1639,343.93 L1643,342.69 L1647,341.32 L1651,339.84 L1655,338.23 L1659,336.49 L1663,334.63 L1667,332.64 L1671,330.52 L1675,328.27 L1679,325.9 L1683,323.41 L1687,320.8 L1691,318.08 L1695,315.24 L1699,312.3 L1703,309.26 L1707,306.12 L1711,302.9 L1715,299.59 L1719,296.21 L1723,292.77 L1727,289.26 L1731,285.71 L1735,282.1 L1739,278.46 L1743,274.79 L1747,271.09 L1751,267.38 L1755,263.65 L1759,259.92 L1762.7,256.48" stroke="#2c7234" stroke-width="1.35" fill="none" stroke-linejoin="round"/>
<path d="M1003,352.4 L1007,352.41 L1011,352.42 L1015,352.42 L1019,352.43 L1023,352.44 L1027,352.45 L1031,352.45 L1035,352.46 L1039,352.47 L1043,352.48 L1047,352.48 L1051,352.49 L1055,352.5 L1059,352.51 L1063,352.52 L1067,352.52 L1071,352.53 L1075,352.54 L1079,352.55 L1083,352.55 L1087,352.56 L1091,352.57 L1095,352.58 L1099,352.58 L1103,352.59 L1107,352.6 L1111,352.6 L1115,352.6 L1119,352.6 L1123,352.6 L1127,352.6 L1131,352.6 L1135,352.6 L1139,352.6 L1143,352.6 L1147,352.6 L1151,352.6 L1155,352.6 L1159,352.6 L1163,352.6 L1167,352.6 L1171,352.6 L1175,352.6 L1179,352.6 L1183,352.6 L1187,352.6 L1191,352.6 L1195,352.6 L1199,352.6 L1203,352.6 L1207,352.6 L1211,352.6 L1215,352.6 L1219,352.6 L1223,352.6 L1227,352.6 L1231,352.6 L1235,352.6 L1239,352.6 L1243,352.6 L1247,352.6 L1251,352.6 L1255,352.6 L1259,352.6 L1263,352.6 L1267,352.6 L1271,352.6 L1275,352.6 L1279,352.6 L1283,352.6 L1287,352.6 L1291,352.6 L1295,352.6 L1299,352.6 L1303,352.6 L1307,352.6 L1311,352.6 L1315,352.6 L1319,352.6 L1323,352.6 L1327,352.6 L1331,352.6 L1335,352.6 L1339,352.6 L1343,352.6 L1347,352.6 L1351,352.6 L1355,352.6 L1359,352.6 L1363,352.6 L1367,352.6 L1371,352.6 L1375,352.6 L1379,352.6 L1383,352.6 L1387,352.6 L1391,352.6 L1395,352.6 L1399,352.6 L1403,352.6 L1407,352.6 L1411,352.6 L1415,352.6 L1419,352.6 L1423,352.6 L1427,352.6 L1431,352.6 L1435,352.6 L1439,352.6 L1443,352.6 L1447,352.6 L1451,352.6 L1455,352.6 L1459,352.6 L1463,352.6 L1467,352.6 L1471,352.6 L1475,352.6 L1479,352.6 L1483,352.6 L1487,352.59 L1491,352.59 L1495,352.58 L1499,352.57 L1503,352.56 L1507,352.54 L1511,352.51 L1515,352.47 L1519,352.41 L1523,352.34 L1527,352.24 L1531,352.12 L1535,351.96 L1539,351.76 L1543,351.5 L1547,351.19 L1551,350.82 L1555,350.36 L1559,349.82 L1563,349.19 L1567,348.44 L1571,347.59 L1575,346.6 L1579,345.48 L1583,344.22 L1587,342.81 L1591,341.25 L1595,339.52 L1599,337.63 L1603,335.57 L1607,333.34 L1611,330.94 L1615,328.37 L1619,325.64 L1623,322.75 L1627,319.7 L1631,316.5 L1635,313.16 L1639,309.69 L1643,306.09 L1647,302.37 L1651,298.55 L1655,294.63 L1659,290.63 L1663,286.55 L1667,282.42 L1671,278.23 L1675,274 L1679,269.74 L1683,265.46 L1687,261.17 L1691,256.88 L1695,252.61 L1699,248.35 L1703,244.11 L1707,239.91 L1711,235.76 L1715,231.65 L1719,227.59 L1723,223.6 L1727,219.66 L1731,215.8 L1735,212.01 L1739,208.3 L1743,204.66 L1747,201.11 L1751,197.64 L1755,194.26 L1759,190.96 L1762.7,187.99" stroke="#fff" stroke-opacity="0.55" stroke-width="3.25" fill="none" stroke-linejoin="round"/>
<path d="M1003,352.4 L1007,352.41 L1011,352.42 L1015,352.42 L1019,352.43 L1023,352.44 L1027,352.45 L1031,352.45 L1035,352.46 L1039,352.47 L1043,352.48 L1047,352.48 L1051,352.49 L1055,352.5 L1059,352.51 L1063,352.52 L1067,352.52 L1071,352.53 L1075,352.54 L1079,352.55 L1083,352.55 L1087,352.56 L1091,352.57 L1095,352.58 L1099,352.58 L1103,352.59 L1107,352.6 L1111,352.6 L1115,352.6 L1119,352.6 L1123,352.6 L1127,352.6 L1131,352.6 L1135,352.6 L1139,352.6 L1143,352.6 L1147,352.6 L1151,352.6 L1155,352.6 L1159,352.6 L1163,352.6 L1167,352.6 L1171,352.6 L1175,352.6 L1179,352.6 L1183,352.6 L1187,352.6 L1191,352.6 L1195,352.6 L1199,352.6 L1203,352.6 L1207,352.6 L1211,352.6 L1215,352.6 L1219,352.6 L1223,352.6 L1227,352.6 L1231,352.6 L1235,352.6 L1239,352.6 L1243,352.6 L1247,352.6 L1251,352.6 L1255,352.6 L1259,352.6 L1263,352.6 L1267,352.6 L1271,352.6 L1275,352.6 L1279,352.6 L1283,352.6 L1287,352.6 L1291,352.6 L1295,352.6 L1299,352.6 L1303,352.6 L1307,352.6 L1311,352.6 L1315,352.6 L1319,352.6 L1323,352.6 L1327,352.6 L1331,352.6 L1335,352.6 L1339,352.6 L1343,352.6 L1347,352.6 L1351,352.6 L1355,352.6 L1359,352.6 L1363,352.6 L1367,352.6 L1371,352.6 L1375,352.6 L1379,352.6 L1383,352.6 L1387,352.6 L1391,352.6 L1395,352.6 L1399,352.6 L1403,352.6 L1407,352.6 L1411,352.6 L1415,352.6 L1419,352.6 L1423,352.6 L1427,352.6 L1431,352.6 L1435,352.6 L1439,352.6 L1443,352.6 L1447,352.6 L1451,352.6 L1455,352.6 L1459,352.6 L1463,352.6 L1467,352.6 L1471,352.6 L1475,352.6 L1479,352.6 L1483,352.6 L1487,352.59 L1491,352.59 L1495,352.58 L1499,352.57 L1503,352.56 L1507,352.54 L1511,352.51 L1515,352.47 L1519,352.41 L1523,352.34 L1527,352.24 L1531,352.12 L1535,351.96 L1539,351.76 L1543,351.5 L1547,351.19 L1551,350.82 L1555,350.36 L1559,349.82 L1563,349.19 L1567,348.44 L1571,347.59 L1575,346.6 L1579,345.48 L1583,344.22 L1587,342.81 L1591,341.25 L1595,339.52 L1599,337.63 L1603,335.57 L1607,333.34 L1611,330.94 L1615,328.37 L1619,325.64 L1623,322.75 L1627,319.7 L1631,316.5 L1635,313.16 L1639,309.69 L1643,306.09 L1647,302.37 L1651,298.55 L1655,294.63 L1659,290.63 L1663,286.55 L1667,282.42 L1671,278.23 L1675,274 L1679,269.74 L1683,265.46 L1687,261.17 L1691,256.88 L1695,252.61 L1699,248.35 L1703,244.11 L1707,239.91 L1711,235.76 L1715,231.65 L1719,227.59 L1723,223.6 L1727,219.66 L1731,215.8 L1735,212.01 L1739,208.3 L1743,204.66 L1747,201.11 L1751,197.64 L1755,194.26 L1759,190.96 L1762.7,187.99" stroke="#d6e8a4" stroke-width="1.25" fill="none" stroke-linejoin="round"/>
<path d="M1003,350.7 L1007,350.77 L1011,350.85 L1015,350.92 L1019,350.99 L1023,351.07 L1027,351.14 L1031,351.21 L1035,351.28 L1039,351.36 L1043,351.43 L1047,351.5 L1051,351.58 L1055,351.65 L1059,351.72 L1063,351.8 L1067,351.87 L1071,351.94 L1075,352.02 L1079,352.09 L1083,352.16 L1087,352.23 L1091,352.31 L1095,352.38 L1099,352.45 L1103,352.53 L1107,352.6 L1111,352.6 L1115,352.6 L1119,352.6 L1123,352.6 L1127,352.6 L1131,352.6 L1135,352.6 L1139,352.6 L1143,352.6 L1147,352.6 L1151,352.6 L1155,352.6 L1159,352.6 L1163,352.6 L1167,352.6 L1171,352.6 L1175,352.6 L1179,352.6 L1183,352.6 L1187,352.6 L1191,352.6 L1195,352.6 L1199,352.6 L1203,352.6 L1207,352.6 L1211,352.6 L1215,352.6 L1219,352.6 L1223,352.6 L1227,352.6 L1231,352.6 L1235,352.6 L1239,352.6 L1243,352.6 L1247,352.6 L1251,352.6 L1255,352.6 L1259,352.6 L1263,352.6 L1267,352.6 L1271,352.6 L1275,352.6 L1279,352.6 L1283,352.6 L1287,352.6 L1291,352.6 L1295,352.6 L1299,352.6 L1303,352.6 L1307,352.6 L1311,352.6 L1315,352.6 L1319,352.6 L1323,352.6 L1327,352.6 L1331,352.6 L1335,352.6 L1339,352.6 L1343,352.6 L1347,352.6 L1351,352.6 L1355,352.6 L1359,352.6 L1363,352.6 L1367,352.6 L1371,352.6 L1375,352.6 L1379,352.6 L1383,352.6 L1387,352.6 L1391,352.6 L1395,352.6 L1399,352.6 L1403,352.6 L1407,352.6 L1411,352.6 L1415,352.6 L1419,352.6 L1423,352.6 L1427,352.59 L1431,352.59 L1435,352.58 L1439,352.57 L1443,352.55 L1447,352.52 L1451,352.48 L1455,352.42 L1459,352.34 L1463,352.23 L1467,352.09 L1471,351.9 L1475,351.66 L1479,351.35 L1483,350.97 L1487,350.5 L1491,349.93 L1495,349.24 L1499,348.42 L1503,347.47 L1507,346.36 L1511,345.09 L1515,343.65 L1519,342.02 L1523,340.2 L1527,338.19 L1531,335.98 L1535,333.56 L1539,330.95 L1543,328.14 L1547,325.13 L1551,321.94 L1555,318.57 L1559,315.02 L1563,311.32 L1567,307.47 L1571,303.48 L1575,299.37 L1579,295.15 L1583,290.84 L1587,286.45 L1591,281.99 L1595,277.48 L1599,272.94 L1603,268.37 L1607,263.8 L1611,259.23 L1615,254.67 L1619,250.14 L1623,245.65 L1627,241.2 L1631,236.81 L1635,232.48 L1639,228.23 L1643,224.05 L1647,219.95 L1651,215.94 L1655,212.03 L1659,208.21 L1663,204.48 L1667,200.86 L1671,197.35 L1675,193.93 L1679,190.62 L1683,187.42 L1687,184.32 L1691,181.32 L1695,178.43 L1699,175.63 L1703,172.94 L1707,170.35 L1711,167.86 L1715,165.46 L1719,163.16 L1723,160.94 L1727,158.82 L1731,156.78 L1735,154.82 L1739,152.95 L1743,151.16 L1747,149.44 L1751,147.79 L1755,146.22 L1759,144.72 L1762.7,143.39" stroke="#fff" stroke-opacity="0.55" stroke-width="3.25" fill="none" stroke-linejoin="round"/>
<path d="M1003,350.7 L1007,350.77 L1011,350.85 L1015,350.92 L1019,350.99 L1023,351.07 L1027,351.14 L1031,351.21 L1035,351.28 L1039,351.36 L1043,351.43 L1047,351.5 L1051,351.58 L1055,351.65 L1059,351.72 L1063,351.8 L1067,351.87 L1071,351.94 L1075,352.02 L1079,352.09 L1083,352.16 L1087,352.23 L1091,352.31 L1095,352.38 L1099,352.45 L1103,352.53 L1107,352.6 L1111,352.6 L1115,352.6 L1119,352.6 L1123,352.6 L1127,352.6 L1131,352.6 L1135,352.6 L1139,352.6 L1143,352.6 L1147,352.6 L1151,352.6 L1155,352.6 L1159,352.6 L1163,352.6 L1167,352.6 L1171,352.6 L1175,352.6 L1179,352.6 L1183,352.6 L1187,352.6 L1191,352.6 L1195,352.6 L1199,352.6 L1203,352.6 L1207,352.6 L1211,352.6 L1215,352.6 L1219,352.6 L1223,352.6 L1227,352.6 L1231,352.6 L1235,352.6 L1239,352.6 L1243,352.6 L1247,352.6 L1251,352.6 L1255,352.6 L1259,352.6 L1263,352.6 L1267,352.6 L1271,352.6 L1275,352.6 L1279,352.6 L1283,352.6 L1287,352.6 L1291,352.6 L1295,352.6 L1299,352.6 L1303,352.6 L1307,352.6 L1311,352.6 L1315,352.6 L1319,352.6 L1323,352.6 L1327,352.6 L1331,352.6 L1335,352.6 L1339,352.6 L1343,352.6 L1347,352.6 L1351,352.6 L1355,352.6 L1359,352.6 L1363,352.6 L1367,352.6 L1371,352.6 L1375,352.6 L1379,352.6 L1383,352.6 L1387,352.6 L1391,352.6 L1395,352.6 L1399,352.6 L1403,352.6 L1407,352.6 L1411,352.6 L1415,352.6 L1419,352.6 L1423,352.6 L1427,352.59 L1431,352.59 L1435,352.58 L1439,352.57 L1443,352.55 L1447,352.52 L1451,352.48 L1455,352.42 L1459,352.34 L1463,352.23 L1467,352.09 L1471,351.9 L1475,351.66 L1479,351.35 L1483,350.97 L1487,350.5 L1491,349.93 L1495,349.24 L1499,348.42 L1503,347.47 L1507,346.36 L1511,345.09 L1515,343.65 L1519,342.02 L1523,340.2 L1527,338.19 L1531,335.98 L1535,333.56 L1539,330.95 L1543,328.14 L1547,325.13 L1551,321.94 L1555,318.57 L1559,315.02 L1563,311.32 L1567,307.47 L1571,303.48 L1575,299.37 L1579,295.15 L1583,290.84 L1587,286.45 L1591,281.99 L1595,277.48 L1599,272.94 L1603,268.37 L1607,263.8 L1611,259.23 L1615,254.67 L1619,250.14 L1623,245.65 L1627,241.2 L1631,236.81 L1635,232.48 L1639,228.23 L1643,224.05 L1647,219.95 L1651,215.94 L1655,212.03 L1659,208.21 L1663,204.48 L1667,200.86 L1671,197.35 L1675,193.93 L1679,190.62 L1683,187.42 L1687,184.32 L1691,181.32 L1695,178.43 L1699,175.63 L1703,172.94 L1707,170.35 L1711,167.86 L1715,165.46 L1719,163.16 L1723,160.94 L1727,158.82 L1731,156.78 L1735,154.82 L1739,152.95 L1743,151.16 L1747,149.44 L1751,147.79 L1755,146.22 L1759,144.72 L1762.7,143.39" stroke="#f27585" stroke-width="1.25" fill="none" stroke-linejoin="round"/>
<path d="M1003,352.4 L1007,352.41 L1011,352.42 L1015,352.42 L1019,352.43 L1023,352.44 L1027,352.45 L1031,352.45 L1035,352.46 L1039,352.47 L1043,352.48 L1047,352.48 L1051,352.49 L1055,352.5 L1059,352.51 L1063,352.52 L1067,352.52 L1071,352.53 L1075,352.54 L1079,352.55 L1083,352.55 L1087,352.56 L1091,352.57 L1095,352.58 L1099,352.58 L1103,352.59 L1107,352.6 L1111,352.6 L1115,352.6 L1119,352.6 L1123,352.6 L1127,352.6 L1131,352.6 L1135,352.6 L1139,352.6 L1143,352.6 L1147,352.6 L1151,352.6 L1155,352.6 L1159,352.6 L1163,352.6 L1167,352.6 L1171,352.6 L1175,352.6 L1179,352.6 L1183,352.6 L1187,352.6 L1191,352.6 L1195,352.6 L1199,352.6 L1203,352.6 L1207,352.6 L1211,352.6 L1215,352.6 L1219,352.6 L1223,352.6 L1227,352.6 L1231,352.6 L1235,352.6 L1239,352.6 L1243,352.6 L1247,352.6 L1251,352.6 L1255,352.6 L1259,352.6 L1263,352.6 L1267,352.6 L1271,352.6 L1275,352.6 L1279,352.6 L1283,352.6 L1287,352.6 L1291,352.6 L1295,352.6 L1299,352.6 L1303,352.6 L1307,352.6 L1311,352.6 L1315,352.6 L1319,352.6 L1323,352.6 L1327,352.6 L1331,352.6 L1335,352.6 L1339,352.6 L1343,352.59 L1347,352.59 L1351,352.58 L1355,352.57 L1359,352.55 L1363,352.53 L1367,352.49 L1371,352.44 L1375,352.37 L1379,352.27 L1383,352.14 L1387,351.97 L1391,351.76 L1395,351.48 L1399,351.13 L1403,350.69 L1407,350.16 L1411,349.53 L1415,348.77 L1419,347.87 L1423,346.83 L1427,345.63 L1431,344.26 L1435,342.71 L1439,340.98 L1443,339.04 L1447,336.91 L1451,334.58 L1455,332.04 L1459,329.3 L1463,326.36 L1467,323.22 L1471,319.9 L1475,316.39 L1479,312.72 L1483,308.88 L1487,304.89 L1491,300.77 L1495,296.53 L1499,292.18 L1503,287.74 L1507,283.22 L1511,278.63 L1515,273.99 L1519,269.32 L1523,264.63 L1527,259.92 L1531,255.22 L1535,250.54 L1539,245.88 L1543,241.26 L1547,236.69 L1551,232.17 L1555,227.72 L1559,223.34 L1563,219.04 L1567,214.82 L1571,210.69 L1575,206.65 L1579,202.71 L1583,198.87 L1587,195.13 L1591,191.49 L1595,187.96 L1599,184.54 L1603,181.22 L1607,178.01 L1611,174.9 L1615,171.9 L1619,169 L1623,166.21 L1627,163.51 L1631,160.92 L1635,158.42 L1639,156.02 L1643,153.71 L1647,151.49 L1651,149.36 L1655,147.32 L1659,145.36 L1663,143.48 L1667,141.68 L1671,139.96 L1675,138.31 L1679,136.73 L1683,135.22 L1687,133.77 L1691,132.39 L1695,131.08 L1699,129.82 L1703,128.61 L1707,127.46 L1711,126.37 L1715,125.32 L1719,124.32 L1723,123.37 L1727,122.46 L1731,121.59 L1735,120.77 L1739,119.98 L1743,119.23 L1747,118.52 L1751,117.84 L1755,117.19 L1759,116.57 L1762.7,116.03" stroke="#fff" stroke-opacity="0.55" stroke-width="3.25" fill="none" stroke-linejoin="round"/>
<path d="M1003,352.4 L1007,352.41 L1011,352.42 L1015,352.42 L1019,352.43 L1023,352.44 L1027,352.45 L1031,352.45 L1035,352.46 L1039,352.47 L1043,352.48 L1047,352.48 L1051,352.49 L1055,352.5 L1059,352.51 L1063,352.52 L1067,352.52 L1071,352.53 L1075,352.54 L1079,352.55 L1083,352.55 L1087,352.56 L1091,352.57 L1095,352.58 L1099,352.58 L1103,352.59 L1107,352.6 L1111,352.6 L1115,352.6 L1119,352.6 L1123,352.6 L1127,352.6 L1131,352.6 L1135,352.6 L1139,352.6 L1143,352.6 L1147,352.6 L1151,352.6 L1155,352.6 L1159,352.6 L1163,352.6 L1167,352.6 L1171,352.6 L1175,352.6 L1179,352.6 L1183,352.6 L1187,352.6 L1191,352.6 L1195,352.6 L1199,352.6 L1203,352.6 L1207,352.6 L1211,352.6 L1215,352.6 L1219,352.6 L1223,352.6 L1227,352.6 L1231,352.6 L1235,352.6 L1239,352.6 L1243,352.6 L1247,352.6 L1251,352.6 L1255,352.6 L1259,352.6 L1263,352.6 L1267,352.6 L1271,352.6 L1275,352.6 L1279,352.6 L1283,352.6 L1287,352.6 L1291,352.6 L1295,352.6 L1299,352.6 L1303,352.6 L1307,352.6 L1311,352.6 L1315,352.6 L1319,352.6 L1323,352.6 L1327,352.6 L1331,352.6 L1335,352.6 L1339,352.6 L1343,352.59 L1347,352.59 L1351,352.58 L1355,352.57 L1359,352.55 L1363,352.53 L1367,352.49 L1371,352.44 L1375,352.37 L1379,352.27 L1383,352.14 L1387,351.97 L1391,351.76 L1395,351.48 L1399,351.13 L1403,350.69 L1407,350.16 L1411,349.53 L1415,348.77 L1419,347.87 L1423,346.83 L1427,345.63 L1431,344.26 L1435,342.71 L1439,340.98 L1443,339.04 L1447,336.91 L1451,334.58 L1455,332.04 L1459,329.3 L1463,326.36 L1467,323.22 L1471,319.9 L1475,316.39 L1479,312.72 L1483,308.88 L1487,304.89 L1491,300.77 L1495,296.53 L1499,292.18 L1503,287.74 L1507,283.22 L1511,278.63 L1515,273.99 L1519,269.32 L1523,264.63 L1527,259.92 L1531,255.22 L1535,250.54 L1539,245.88 L1543,241.26 L1547,236.69 L1551,232.17 L1555,227.72 L1559,223.34 L1563,219.04 L1567,214.82 L1571,210.69 L1575,206.65 L1579,202.71 L1583,198.87 L1587,195.13 L1591,191.49 L1595,187.96 L1599,184.54 L1603,181.22 L1607,178.01 L1611,174.9 L1615,171.9 L1619,169 L1623,166.21 L1627,163.51 L1631,160.92 L1635,158.42 L1639,156.02 L1643,153.71 L1647,151.49 L1651,149.36 L1655,147.32 L1659,145.36 L1663,143.48 L1667,141.68 L1671,139.96 L1675,138.31 L1679,136.73 L1683,135.22 L1687,133.77 L1691,132.39 L1695,131.08 L1699,129.82 L1703,128.61 L1707,127.46 L1711,126.37 L1715,125.32 L1719,124.32 L1723,123.37 L1727,122.46 L1731,121.59 L1735,120.77 L1739,119.98 L1743,119.23 L1747,118.52 L1751,117.84 L1755,117.19 L1759,116.57 L1762.7,116.03" stroke="#b8d455" stroke-width="1.25" fill="none" stroke-linejoin="round"/>
<path d="M1003,352 L1007,352.02 L1011,352.05 L1015,352.07 L1019,352.09 L1023,352.12 L1027,352.14 L1031,352.16 L1035,352.18 L1039,352.21 L1043,352.23 L1047,352.25 L1051,352.28 L1055,352.3 L1059,352.32 L1063,352.35 L1067,352.37 L1071,352.39 L1075,352.42 L1079,352.44 L1083,352.46 L1087,352.48 L1091,352.51 L1095,352.53 L1099,352.55 L1103,352.58 L1107,352.6 L1111,352.6 L1115,352.6 L1119,352.6 L1123,352.6 L1127,352.6 L1131,352.6 L1135,352.6 L1139,352.6 L1143,352.6 L1147,352.6 L1151,352.6 L1155,352.6 L1159,352.6 L1163,352.6 L1167,352.6 L1171,352.6 L1175,352.6 L1179,352.6 L1183,352.6 L1187,352.6 L1191,352.6 L1195,352.6 L1199,352.6 L1203,352.6 L1207,352.6 L1211,352.6 L1215,352.6 L1219,352.6 L1223,352.6 L1227,352.6 L1231,352.6 L1235,352.6 L1239,352.6 L1243,352.6 L1247,352.6 L1251,352.6 L1255,352.6 L1259,352.59 L1263,352.59 L1267,352.58 L1271,352.56 L1275,352.54 L1279,352.51 L1283,352.47 L1287,352.41 L1291,352.33 L1295,352.22 L1299,352.07 L1303,351.87 L1307,351.62 L1311,351.3 L1315,350.9 L1319,350.41 L1323,349.82 L1327,349.1 L1331,348.26 L1335,347.26 L1339,346.11 L1343,344.79 L1347,343.29 L1351,341.59 L1355,339.7 L1359,337.6 L1363,335.3 L1367,332.78 L1371,330.05 L1375,327.12 L1379,323.98 L1383,320.64 L1387,317.12 L1391,313.41 L1395,309.53 L1399,305.49 L1403,301.31 L1407,297 L1411,292.57 L1415,288.04 L1419,283.43 L1423,278.74 L1427,274 L1431,269.21 L1435,264.4 L1439,259.58 L1443,254.75 L1447,249.94 L1451,245.16 L1455,240.41 L1459,235.7 L1463,231.06 L1467,226.47 L1471,221.96 L1475,217.53 L1479,213.19 L1483,208.93 L1487,204.77 L1491,200.71 L1495,196.76 L1499,192.91 L1503,189.16 L1507,185.53 L1511,182 L1515,178.58 L1519,175.27 L1523,172.08 L1527,168.99 L1531,166.01 L1535,163.13 L1539,160.36 L1543,157.69 L1547,155.13 L1551,152.66 L1555,150.29 L1559,148.01 L1563,145.82 L1567,143.73 L1571,141.72 L1575,139.79 L1579,137.95 L1583,136.18 L1587,134.49 L1591,132.87 L1595,131.33 L1599,129.85 L1603,128.44 L1607,127.09 L1611,125.8 L1615,124.57 L1619,123.4 L1623,122.28 L1627,121.21 L1631,120.19 L1635,119.22 L1639,118.3 L1643,117.42 L1647,116.58 L1651,115.77 L1655,115.01 L1659,114.29 L1663,113.6 L1667,112.94 L1671,112.31 L1675,111.71 L1679,111.15 L1683,110.61 L1687,110.09 L1691,109.6 L1695,109.14 L1699,108.7 L1703,108.28 L1707,107.88 L1711,107.5 L1715,107.14 L1719,106.79 L1723,106.47 L1727,106.15 L1731,105.86 L1735,105.58 L1739,105.31 L1743,105.06 L1747,104.82 L1751,104.59 L1755,104.37 L1759,104.17 L1762.7,103.98" stroke="#fff" stroke-opacity="0.55" stroke-width="3.3" fill="none" stroke-linejoin="round"/>
<path d="M1003,352 L1007,352.02 L1011,352.05 L1015,352.07 L1019,352.09 L1023,352.12 L1027,352.14 L1031,352.16 L1035,352.18 L1039,352.21 L1043,352.23 L1047,352.25 L1051,352.28 L1055,352.3 L1059,352.32 L1063,352.35 L1067,352.37 L1071,352.39 L1075,352.42 L1079,352.44 L1083,352.46 L1087,352.48 L1091,352.51 L1095,352.53 L1099,352.55 L1103,352.58 L1107,352.6 L1111,352.6 L1115,352.6 L1119,352.6 L1123,352.6 L1127,352.6 L1131,352.6 L1135,352.6 L1139,352.6 L1143,352.6 L1147,352.6 L1151,352.6 L1155,352.6 L1159,352.6 L1163,352.6 L1167,352.6 L1171,352.6 L1175,352.6 L1179,352.6 L1183,352.6 L1187,352.6 L1191,352.6 L1195,352.6 L1199,352.6 L1203,352.6 L1207,352.6 L1211,352.6 L1215,352.6 L1219,352.6 L1223,352.6 L1227,352.6 L1231,352.6 L1235,352.6 L1239,352.6 L1243,352.6 L1247,352.6 L1251,352.6 L1255,352.6 L1259,352.59 L1263,352.59 L1267,352.58 L1271,352.56 L1275,352.54 L1279,352.51 L1283,352.47 L1287,352.41 L1291,352.33 L1295,352.22 L1299,352.07 L1303,351.87 L1307,351.62 L1311,351.3 L1315,350.9 L1319,350.41 L1323,349.82 L1327,349.1 L1331,348.26 L1335,347.26 L1339,346.11 L1343,344.79 L1347,343.29 L1351,341.59 L1355,339.7 L1359,337.6 L1363,335.3 L1367,332.78 L1371,330.05 L1375,327.12 L1379,323.98 L1383,320.64 L1387,317.12 L1391,313.41 L1395,309.53 L1399,305.49 L1403,301.31 L1407,297 L1411,292.57 L1415,288.04 L1419,283.43 L1423,278.74 L1427,274 L1431,269.21 L1435,264.4 L1439,259.58 L1443,254.75 L1447,249.94 L1451,245.16 L1455,240.41 L1459,235.7 L1463,231.06 L1467,226.47 L1471,221.96 L1475,217.53 L1479,213.19 L1483,208.93 L1487,204.77 L1491,200.71 L1495,196.76 L1499,192.91 L1503,189.16 L1507,185.53 L1511,182 L1515,178.58 L1519,175.27 L1523,172.08 L1527,168.99 L1531,166.01 L1535,163.13 L1539,160.36 L1543,157.69 L1547,155.13 L1551,152.66 L1555,150.29 L1559,148.01 L1563,145.82 L1567,143.73 L1571,141.72 L1575,139.79 L1579,137.95 L1583,136.18 L1587,134.49 L1591,132.87 L1595,131.33 L1599,129.85 L1603,128.44 L1607,127.09 L1611,125.8 L1615,124.57 L1619,123.4 L1623,122.28 L1627,121.21 L1631,120.19 L1635,119.22 L1639,118.3 L1643,117.42 L1647,116.58 L1651,115.77 L1655,115.01 L1659,114.29 L1663,113.6 L1667,112.94 L1671,112.31 L1675,111.71 L1679,111.15 L1683,110.61 L1687,110.09 L1691,109.6 L1695,109.14 L1699,108.7 L1703,108.28 L1707,107.88 L1711,107.5 L1715,107.14 L1719,106.79 L1723,106.47 L1727,106.15 L1731,105.86 L1735,105.58 L1739,105.31 L1743,105.06 L1747,104.82 L1751,104.59 L1755,104.37 L1759,104.17 L1762.7,103.98" stroke="#ee3d5a" stroke-width="1.3" fill="none" stroke-linejoin="round"/>
<path d="M1003,352.3 L1007,352.31 L1011,352.32 L1015,352.33 L1019,352.35 L1023,352.36 L1027,352.37 L1031,352.38 L1035,352.39 L1039,352.4 L1043,352.42 L1047,352.43 L1051,352.44 L1055,352.45 L1059,352.46 L1063,352.47 L1067,352.48 L1071,352.5 L1075,352.51 L1079,352.52 L1083,352.53 L1087,352.54 L1091,352.55 L1095,352.57 L1099,352.58 L1103,352.59 L1107,352.6 L1111,352.6 L1115,352.6 L1119,352.6 L1123,352.6 L1127,352.6 L1131,352.6 L1135,352.6 L1139,352.6 L1143,352.6 L1147,352.6 L1151,352.6 L1155,352.6 L1159,352.6 L1163,352.6 L1167,352.6 L1171,352.6 L1175,352.6 L1179,352.59 L1183,352.59 L1187,352.58 L1191,352.57 L1195,352.56 L1199,352.53 L1203,352.5 L1207,352.45 L1211,352.38 L1215,352.29 L1219,352.16 L1223,352 L1227,351.78 L1231,351.51 L1235,351.17 L1239,350.75 L1243,350.23 L1247,349.6 L1251,348.86 L1255,347.98 L1259,346.95 L1263,345.77 L1267,344.42 L1271,342.88 L1275,341.16 L1279,339.24 L1283,337.12 L1287,334.8 L1291,332.27 L1295,329.54 L1299,326.6 L1303,323.46 L1307,320.14 L1311,316.62 L1315,312.93 L1319,309.08 L1323,305.08 L1327,300.93 L1331,296.66 L1335,292.27 L1339,287.79 L1343,283.22 L1347,278.58 L1351,273.89 L1355,269.16 L1359,264.41 L1363,259.64 L1367,254.87 L1371,250.11 L1375,245.38 L1379,240.68 L1383,236.03 L1387,231.43 L1391,226.9 L1395,222.43 L1399,218.04 L1403,213.73 L1407,209.52 L1411,205.39 L1415,201.36 L1419,197.43 L1423,193.61 L1427,189.89 L1431,186.27 L1435,182.76 L1439,179.36 L1443,176.06 L1447,172.88 L1451,169.79 L1455,166.82 L1459,163.95 L1463,161.18 L1467,158.51 L1471,155.94 L1475,153.47 L1479,151.09 L1483,148.81 L1487,146.62 L1491,144.51 L1495,142.49 L1499,140.56 L1503,138.7 L1507,136.92 L1511,135.22 L1515,133.59 L1519,132.03 L1523,130.54 L1527,129.11 L1531,127.75 L1535,126.45 L1539,125.2 L1543,124.02 L1547,122.88 L1551,121.8 L1555,120.76 L1559,119.78 L1563,118.84 L1567,117.94 L1571,117.09 L1575,116.27 L1579,115.49 L1583,114.75 L1587,114.05 L1591,113.38 L1595,112.74 L1599,112.13 L1603,111.55 L1607,110.99 L1611,110.47 L1615,109.97 L1619,109.49 L1623,109.04 L1627,108.6 L1631,108.19 L1635,107.8 L1639,107.43 L1643,107.08 L1647,106.74 L1651,106.42 L1655,106.12 L1659,105.83 L1663,105.55 L1667,105.29 L1671,105.04 L1675,104.8 L1679,104.58 L1683,104.36 L1687,104.16 L1691,103.97 L1695,103.78 L1699,103.61 L1703,103.44 L1707,103.28 L1711,103.13 L1715,102.99 L1719,102.86 L1723,102.73 L1727,102.61 L1731,102.49 L1735,102.38 L1739,102.27 L1743,102.17 L1747,102.08 L1751,101.99 L1755,101.9 L1759,101.82 L1762.7,101.75" stroke="#fff" stroke-opacity="0.55" stroke-width="3.3" fill="none" stroke-linejoin="round"/>
<path d="M1003,352.3 L1007,352.31 L1011,352.32 L1015,352.33 L1019,352.35 L1023,352.36 L1027,352.37 L1031,352.38 L1035,352.39 L1039,352.4 L1043,352.42 L1047,352.43 L1051,352.44 L1055,352.45 L1059,352.46 L1063,352.47 L1067,352.48 L1071,352.5 L1075,352.51 L1079,352.52 L1083,352.53 L1087,352.54 L1091,352.55 L1095,352.57 L1099,352.58 L1103,352.59 L1107,352.6 L1111,352.6 L1115,352.6 L1119,352.6 L1123,352.6 L1127,352.6 L1131,352.6 L1135,352.6 L1139,352.6 L1143,352.6 L1147,352.6 L1151,352.6 L1155,352.6 L1159,352.6 L1163,352.6 L1167,352.6 L1171,352.6 L1175,352.6 L1179,352.59 L1183,352.59 L1187,352.58 L1191,352.57 L1195,352.56 L1199,352.53 L1203,352.5 L1207,352.45 L1211,352.38 L1215,352.29 L1219,352.16 L1223,352 L1227,351.78 L1231,351.51 L1235,351.17 L1239,350.75 L1243,350.23 L1247,349.6 L1251,348.86 L1255,347.98 L1259,346.95 L1263,345.77 L1267,344.42 L1271,342.88 L1275,341.16 L1279,339.24 L1283,337.12 L1287,334.8 L1291,332.27 L1295,329.54 L1299,326.6 L1303,323.46 L1307,320.14 L1311,316.62 L1315,312.93 L1319,309.08 L1323,305.08 L1327,300.93 L1331,296.66 L1335,292.27 L1339,287.79 L1343,283.22 L1347,278.58 L1351,273.89 L1355,269.16 L1359,264.41 L1363,259.64 L1367,254.87 L1371,250.11 L1375,245.38 L1379,240.68 L1383,236.03 L1387,231.43 L1391,226.9 L1395,222.43 L1399,218.04 L1403,213.73 L1407,209.52 L1411,205.39 L1415,201.36 L1419,197.43 L1423,193.61 L1427,189.89 L1431,186.27 L1435,182.76 L1439,179.36 L1443,176.06 L1447,172.88 L1451,169.79 L1455,166.82 L1459,163.95 L1463,161.18 L1467,158.51 L1471,155.94 L1475,153.47 L1479,151.09 L1483,148.81 L1487,146.62 L1491,144.51 L1495,142.49 L1499,140.56 L1503,138.7 L1507,136.92 L1511,135.22 L1515,133.59 L1519,132.03 L1523,130.54 L1527,129.11 L1531,127.75 L1535,126.45 L1539,125.2 L1543,124.02 L1547,122.88 L1551,121.8 L1555,120.76 L1559,119.78 L1563,118.84 L1567,117.94 L1571,117.09 L1575,116.27 L1579,115.49 L1583,114.75 L1587,114.05 L1591,113.38 L1595,112.74 L1599,112.13 L1603,111.55 L1607,110.99 L1611,110.47 L1615,109.97 L1619,109.49 L1623,109.04 L1627,108.6 L1631,108.19 L1635,107.8 L1639,107.43 L1643,107.08 L1647,106.74 L1651,106.42 L1655,106.12 L1659,105.83 L1663,105.55 L1667,105.29 L1671,105.04 L1675,104.8 L1679,104.58 L1683,104.36 L1687,104.16 L1691,103.97 L1695,103.78 L1699,103.61 L1703,103.44 L1707,103.28 L1711,103.13 L1715,102.99 L1719,102.86 L1723,102.73 L1727,102.61 L1731,102.49 L1735,102.38 L1739,102.27 L1743,102.17 L1747,102.08 L1751,101.99 L1755,101.9 L1759,101.82 L1762.7,101.75" stroke="#a4c43c" stroke-width="1.3" fill="none" stroke-linejoin="round"/>
<path d="M1003,352.2 L1007,352.22 L1011,352.23 L1015,352.25 L1019,352.26 L1023,352.28 L1027,352.29 L1031,352.31 L1035,352.32 L1039,352.34 L1043,352.35 L1047,352.37 L1051,352.38 L1055,352.4 L1059,352.42 L1063,352.43 L1067,352.45 L1071,352.46 L1075,352.48 L1079,352.49 L1083,352.51 L1087,352.52 L1091,352.54 L1095,352.55 L1099,352.57 L1103,352.58 L1107,352.59 L1111,352.59 L1115,352.58 L1119,352.57 L1123,352.55 L1127,352.52 L1131,352.49 L1135,352.43 L1139,352.35 L1143,352.24 L1147,352.09 L1151,351.89 L1155,351.64 L1159,351.31 L1163,350.9 L1167,350.4 L1171,349.78 L1175,349.03 L1179,348.14 L1183,347.09 L1187,345.87 L1191,344.46 L1195,342.86 L1199,341.05 L1203,339.03 L1207,336.79 L1211,334.33 L1215,331.64 L1219,328.73 L1223,325.61 L1227,322.26 L1231,318.72 L1235,314.98 L1239,311.05 L1243,306.95 L1247,302.7 L1251,298.3 L1255,293.77 L1259,289.14 L1263,284.41 L1267,279.61 L1271,274.75 L1275,269.84 L1279,264.91 L1283,259.96 L1287,255.02 L1291,250.09 L1295,245.2 L1299,240.34 L1303,235.54 L1307,230.79 L1311,226.12 L1315,221.54 L1319,217.03 L1323,212.62 L1327,208.31 L1331,204.11 L1335,200.01 L1339,196.02 L1343,192.15 L1347,188.39 L1351,184.75 L1355,181.22 L1359,177.81 L1363,174.52 L1367,171.34 L1371,168.27 L1375,165.32 L1379,162.49 L1383,159.76 L1387,157.13 L1391,154.61 L1395,152.2 L1399,149.88 L1403,147.66 L1407,145.54 L1411,143.5 L1415,141.56 L1419,139.7 L1423,137.92 L1427,136.22 L1431,134.6 L1435,133.05 L1439,131.58 L1443,130.17 L1447,128.82 L1451,127.54 L1455,126.33 L1459,125.16 L1463,124.06 L1467,123.01 L1471,122 L1475,121.05 L1479,120.14 L1483,119.28 L1487,118.46 L1491,117.68 L1495,116.94 L1499,116.23 L1503,115.56 L1507,114.93 L1511,114.32 L1515,113.75 L1519,113.2 L1523,112.69 L1527,112.19 L1531,111.73 L1535,111.28 L1539,110.86 L1543,110.46 L1547,110.08 L1551,109.72 L1555,109.38 L1559,109.06 L1563,108.75 L1567,108.46 L1571,108.18 L1575,107.92 L1579,107.67 L1583,107.44 L1587,107.21 L1591,107 L1595,106.8 L1599,106.61 L1603,106.43 L1607,106.26 L1611,106.1 L1615,105.94 L1619,105.79 L1623,105.66 L1627,105.52 L1631,105.4 L1635,105.28 L1639,105.17 L1643,105.06 L1647,104.96 L1651,104.87 L1655,104.78 L1659,104.69 L1663,104.61 L1667,104.53 L1671,104.46 L1675,104.39 L1679,104.33 L1683,104.26 L1687,104.2 L1691,104.15 L1695,104.1 L1699,104.05 L1703,104 L1707,103.95 L1711,103.91 L1715,103.87 L1719,103.83 L1723,103.8 L1727,103.76 L1731,103.73 L1735,103.7 L1739,103.67 L1743,103.64 L1747,103.61 L1751,103.59 L1755,103.57 L1759,103.54 L1762.7,103.52" stroke="#fff" stroke-opacity="0.55" stroke-width="3.35" fill="none" stroke-linejoin="round"/>
<path d="M1003,352.2 L1007,352.22 L1011,352.23 L1015,352.25 L1019,352.26 L1023,352.28 L1027,352.29 L1031,352.31 L1035,352.32 L1039,352.34 L1043,352.35 L1047,352.37 L1051,352.38 L1055,352.4 L1059,352.42 L1063,352.43 L1067,352.45 L1071,352.46 L1075,352.48 L1079,352.49 L1083,352.51 L1087,352.52 L1091,352.54 L1095,352.55 L1099,352.57 L1103,352.58 L1107,352.59 L1111,352.59 L1115,352.58 L1119,352.57 L1123,352.55 L1127,352.52 L1131,352.49 L1135,352.43 L1139,352.35 L1143,352.24 L1147,352.09 L1151,351.89 L1155,351.64 L1159,351.31 L1163,350.9 L1167,350.4 L1171,349.78 L1175,349.03 L1179,348.14 L1183,347.09 L1187,345.87 L1191,344.46 L1195,342.86 L1199,341.05 L1203,339.03 L1207,336.79 L1211,334.33 L1215,331.64 L1219,328.73 L1223,325.61 L1227,322.26 L1231,318.72 L1235,314.98 L1239,311.05 L1243,306.95 L1247,302.7 L1251,298.3 L1255,293.77 L1259,289.14 L1263,284.41 L1267,279.61 L1271,274.75 L1275,269.84 L1279,264.91 L1283,259.96 L1287,255.02 L1291,250.09 L1295,245.2 L1299,240.34 L1303,235.54 L1307,230.79 L1311,226.12 L1315,221.54 L1319,217.03 L1323,212.62 L1327,208.31 L1331,204.11 L1335,200.01 L1339,196.02 L1343,192.15 L1347,188.39 L1351,184.75 L1355,181.22 L1359,177.81 L1363,174.52 L1367,171.34 L1371,168.27 L1375,165.32 L1379,162.49 L1383,159.76 L1387,157.13 L1391,154.61 L1395,152.2 L1399,149.88 L1403,147.66 L1407,145.54 L1411,143.5 L1415,141.56 L1419,139.7 L1423,137.92 L1427,136.22 L1431,134.6 L1435,133.05 L1439,131.58 L1443,130.17 L1447,128.82 L1451,127.54 L1455,126.33 L1459,125.16 L1463,124.06 L1467,123.01 L1471,122 L1475,121.05 L1479,120.14 L1483,119.28 L1487,118.46 L1491,117.68 L1495,116.94 L1499,116.23 L1503,115.56 L1507,114.93 L1511,114.32 L1515,113.75 L1519,113.2 L1523,112.69 L1527,112.19 L1531,111.73 L1535,111.28 L1539,110.86 L1543,110.46 L1547,110.08 L1551,109.72 L1555,109.38 L1559,109.06 L1563,108.75 L1567,108.46 L1571,108.18 L1575,107.92 L1579,107.67 L1583,107.44 L1587,107.21 L1591,107 L1595,106.8 L1599,106.61 L1603,106.43 L1607,106.26 L1611,106.1 L1615,105.94 L1619,105.79 L1623,105.66 L1627,105.52 L1631,105.4 L1635,105.28 L1639,105.17 L1643,105.06 L1647,104.96 L1651,104.87 L1655,104.78 L1659,104.69 L1663,104.61 L1667,104.53 L1671,104.46 L1675,104.39 L1679,104.33 L1683,104.26 L1687,104.2 L1691,104.15 L1695,104.1 L1699,104.05 L1703,104 L1707,103.95 L1711,103.91 L1715,103.87 L1719,103.83 L1723,103.8 L1727,103.76 L1731,103.73 L1735,103.7 L1739,103.67 L1743,103.64 L1747,103.61 L1751,103.59 L1755,103.57 L1759,103.54 L1762.7,103.52" stroke="#d41f3a" stroke-width="1.35" fill="none" stroke-linejoin="round"/>
<path d="M1003,348.6 L1007,348.75 L1011,348.91 L1015,349.06 L1019,349.22 L1023,349.37 L1027,349.52 L1031,349.68 L1035,349.83 L1039,349.98 L1043,350.14 L1047,350.29 L1051,350.44 L1055,350.59 L1059,350.74 L1063,350.89 L1067,351.02 L1071,351.15 L1075,351.27 L1079,351.38 L1083,351.45 L1087,351.5 L1091,351.51 L1095,351.48 L1099,351.37 L1103,351.2 L1107,350.93 L1111,350.41 L1115,349.76 L1119,348.98 L1123,348.03 L1127,346.92 L1131,345.62 L1135,344.13 L1139,342.42 L1143,340.49 L1147,338.33 L1151,335.95 L1155,333.32 L1159,330.47 L1163,327.38 L1167,324.08 L1171,320.56 L1175,316.83 L1179,312.92 L1183,308.83 L1187,304.58 L1191,300.19 L1195,295.67 L1199,291.05 L1203,286.34 L1207,281.56 L1211,276.72 L1215,271.86 L1219,266.97 L1223,262.09 L1227,257.22 L1231,252.39 L1235,247.59 L1239,242.85 L1243,238.18 L1247,233.58 L1251,229.07 L1255,224.65 L1259,220.33 L1263,216.12 L1267,212.02 L1271,208.03 L1275,204.16 L1279,200.4 L1283,196.77 L1287,193.26 L1291,189.88 L1295,186.61 L1299,183.47 L1303,180.44 L1307,177.53 L1311,174.74 L1315,172.07 L1319,169.5 L1323,167.04 L1327,164.69 L1331,162.44 L1335,160.29 L1339,158.24 L1343,156.29 L1347,154.42 L1351,152.64 L1355,150.94 L1359,149.33 L1363,147.79 L1367,146.33 L1371,144.93 L1375,143.61 L1379,142.35 L1383,141.16 L1387,140.02 L1391,138.95 L1395,137.92 L1399,136.95 L1403,136.03 L1407,135.16 L1411,134.33 L1415,133.54 L1419,132.8 L1423,132.09 L1427,131.43 L1431,130.79 L1435,130.19 L1439,129.62 L1443,129.09 L1447,128.58 L1451,128.1 L1455,127.64 L1459,127.21 L1463,126.8 L1467,126.41 L1471,126.05 L1475,125.7 L1479,125.37 L1483,125.06 L1487,124.77 L1491,124.49 L1495,124.23 L1499,123.98 L1503,123.75 L1507,123.53 L1511,123.32 L1515,123.12 L1519,122.93 L1523,122.76 L1527,122.59 L1531,122.43 L1535,122.28 L1539,122.14 L1543,122.01 L1547,121.88 L1551,121.76 L1555,121.65 L1559,121.54 L1563,121.44 L1567,121.35 L1571,121.26 L1575,121.17 L1579,121.09 L1583,121.02 L1587,120.99 L1591,120.97 L1595,120.95 L1599,120.93 L1603,120.92 L1607,120.91 L1611,120.9 L1615,120.9 L1619,120.9 L1623,120.9 L1627,120.9 L1631,120.91 L1635,120.92 L1639,120.93 L1643,120.94 L1647,120.95 L1651,120.97 L1655,120.98 L1659,121 L1663,121.02 L1667,121.05 L1671,121.07 L1675,121.09 L1679,121.12 L1683,121.14 L1687,121.17 L1691,121.2 L1695,121.23 L1699,121.26 L1703,121.29 L1707,121.32 L1711,121.35 L1715,121.38 L1719,121.42 L1723,121.45 L1727,121.49 L1731,121.52 L1735,121.56 L1739,121.59 L1743,121.63 L1747,121.67 L1751,121.7 L1755,121.74 L1759,121.78 L1762.7,121.82" stroke="#fff" stroke-opacity="0.55" stroke-width="3.35" fill="none" stroke-linejoin="round"/>
<path d="M1003,348.6 L1007,348.75 L1011,348.91 L1015,349.06 L1019,349.22 L1023,349.37 L1027,349.52 L1031,349.68 L1035,349.83 L1039,349.98 L1043,350.14 L1047,350.29 L1051,350.44 L1055,350.59 L1059,350.74 L1063,350.89 L1067,351.02 L1071,351.15 L1075,351.27 L1079,351.38 L1083,351.45 L1087,351.5 L1091,351.51 L1095,351.48 L1099,351.37 L1103,351.2 L1107,350.93 L1111,350.41 L1115,349.76 L1119,348.98 L1123,348.03 L1127,346.92 L1131,345.62 L1135,344.13 L1139,342.42 L1143,340.49 L1147,338.33 L1151,335.95 L1155,333.32 L1159,330.47 L1163,327.38 L1167,324.08 L1171,320.56 L1175,316.83 L1179,312.92 L1183,308.83 L1187,304.58 L1191,300.19 L1195,295.67 L1199,291.05 L1203,286.34 L1207,281.56 L1211,276.72 L1215,271.86 L1219,266.97 L1223,262.09 L1227,257.22 L1231,252.39 L1235,247.59 L1239,242.85 L1243,238.18 L1247,233.58 L1251,229.07 L1255,224.65 L1259,220.33 L1263,216.12 L1267,212.02 L1271,208.03 L1275,204.16 L1279,200.4 L1283,196.77 L1287,193.26 L1291,189.88 L1295,186.61 L1299,183.47 L1303,180.44 L1307,177.53 L1311,174.74 L1315,172.07 L1319,169.5 L1323,167.04 L1327,164.69 L1331,162.44 L1335,160.29 L1339,158.24 L1343,156.29 L1347,154.42 L1351,152.64 L1355,150.94 L1359,149.33 L1363,147.79 L1367,146.33 L1371,144.93 L1375,143.61 L1379,142.35 L1383,141.16 L1387,140.02 L1391,138.95 L1395,137.92 L1399,136.95 L1403,136.03 L1407,135.16 L1411,134.33 L1415,133.54 L1419,132.8 L1423,132.09 L1427,131.43 L1431,130.79 L1435,130.19 L1439,129.62 L1443,129.09 L1447,128.58 L1451,128.1 L1455,127.64 L1459,127.21 L1463,126.8 L1467,126.41 L1471,126.05 L1475,125.7 L1479,125.37 L1483,125.06 L1487,124.77 L1491,124.49 L1495,124.23 L1499,123.98 L1503,123.75 L1507,123.53 L1511,123.32 L1515,123.12 L1519,122.93 L1523,122.76 L1527,122.59 L1531,122.43 L1535,122.28 L1539,122.14 L1543,122.01 L1547,121.88 L1551,121.76 L1555,121.65 L1559,121.54 L1563,121.44 L1567,121.35 L1571,121.26 L1575,121.17 L1579,121.09 L1583,121.02 L1587,120.99 L1591,120.97 L1595,120.95 L1599,120.93 L1603,120.92 L1607,120.91 L1611,120.9 L1615,120.9 L1619,120.9 L1623,120.9 L1627,120.9 L1631,120.91 L1635,120.92 L1639,120.93 L1643,120.94 L1647,120.95 L1651,120.97 L1655,120.98 L1659,121 L1663,121.02 L1667,121.05 L1671,121.07 L1675,121.09 L1679,121.12 L1683,121.14 L1687,121.17 L1691,121.2 L1695,121.23 L1699,121.26 L1703,121.29 L1707,121.32 L1711,121.35 L1715,121.38 L1719,121.42 L1723,121.45 L1727,121.49 L1731,121.52 L1735,121.56 L1739,121.59 L1743,121.63 L1747,121.67 L1751,121.7 L1755,121.74 L1759,121.78 L1762.7,121.82" stroke="#6e8c22" stroke-width="1.35" fill="none" stroke-linejoin="round"/>
<path d="M1003 352.9H1762.7" stroke="#a0aa6e" stroke-width="2" fill="none"/>
<circle cx="1205.4" cy="247.6" r="7.5" fill="#fff" fill-opacity="0.55" stroke="#fff" stroke-opacity="0.8" stroke-width="2"/><circle cx="1205.4" cy="247.6" r="6.3" fill="none" stroke="#111" stroke-width="1.5"/><text class="sans" transform="translate(1202.1 251.46) scale(1.0000 1)" font-size="11.2" font-weight="bold" fill="#000">1</text>
<circle cx="1263.7" cy="247.3" r="7.5" fill="#fff" fill-opacity="0.55" stroke="#fff" stroke-opacity="0.8" stroke-width="2"/><circle cx="1263.7" cy="247.3" r="6.3" fill="none" stroke="#111" stroke-width="1.5"/><text class="sans" transform="translate(1260.62 251.22) scale(1.0000 1)" font-size="11.2" font-weight="bold" fill="#000">2</text>
<circle cx="1341.6" cy="247.6" r="7.5" fill="#fff" fill-opacity="0.55" stroke="#fff" stroke-opacity="0.8" stroke-width="2"/><circle cx="1341.6" cy="247.6" r="6.3" fill="none" stroke="#111" stroke-width="1.5"/><text class="sans" transform="translate(1338.55 251.46) scale(1.0000 1)" font-size="11.2" font-weight="bold" fill="#000">3</text>
<circle cx="1420.5" cy="248" r="7.5" fill="#fff" fill-opacity="0.55" stroke="#fff" stroke-opacity="0.8" stroke-width="2"/><circle cx="1420.5" cy="248" r="6.3" fill="none" stroke="#111" stroke-width="1.5"/><text class="sans" transform="translate(1417.34 251.86) scale(1.0000 1)" font-size="11.2" font-weight="bold" fill="#000">4</text>
<circle cx="1500.1" cy="248" r="7.5" fill="#fff" fill-opacity="0.55" stroke="#fff" stroke-opacity="0.8" stroke-width="2"/><circle cx="1500.1" cy="248" r="6.3" fill="none" stroke="#111" stroke-width="1.5"/><text class="sans" transform="translate(1496.96 251.81) scale(1.0000 1)" font-size="11.2" font-weight="bold" fill="#000">5</text>
<circle cx="1598.9" cy="248" r="7.5" fill="#fff" fill-opacity="0.55" stroke="#fff" stroke-opacity="0.8" stroke-width="2"/><circle cx="1598.9" cy="248" r="6.3" fill="none" stroke="#111" stroke-width="1.5"/><text class="sans" transform="translate(1595.79 251.86) scale(1.0000 1)" font-size="11.2" font-weight="bold" fill="#000">6</text>
<circle cx="1658" cy="248" r="7.5" fill="#fff" fill-opacity="0.55" stroke="#fff" stroke-opacity="0.8" stroke-width="2"/><circle cx="1658" cy="248" r="6.3" fill="none" stroke="#111" stroke-width="1.5"/><text class="sans" transform="translate(1654.89 251.86) scale(1.0000 1)" font-size="11.2" font-weight="bold" fill="#000">7</text>
<circle cx="1736.4" cy="248" r="7.5" fill="#fff" fill-opacity="0.55" stroke="#fff" stroke-opacity="0.8" stroke-width="2"/><circle cx="1736.4" cy="248" r="6.3" fill="none" stroke="#111" stroke-width="1.5"/><text class="sans" transform="translate(1733.29 251.86) scale(1.0000 1)" font-size="11.2" font-weight="bold" fill="#000">8</text>
<circle cx="1725.7" cy="342" r="7.5" fill="#fff" fill-opacity="0.55" stroke="#fff" stroke-opacity="0.8" stroke-width="2"/><circle cx="1725.7" cy="342" r="6.3" fill="none" stroke="#111" stroke-width="1.5"/><text class="sans" transform="translate(1722.59 345.86) scale(1.0000 1)" font-size="11.2" font-weight="bold" fill="#000">9</text>
<path d="M1734.6 343H1738.2" stroke="#222" stroke-width="1.6"/>
<circle cx="1746.7" cy="342" r="7.8" fill="#fff" fill-opacity="0.55" stroke="#fff" stroke-opacity="0.8" stroke-width="2"/><circle cx="1746.7" cy="342" r="6.6" fill="none" stroke="#111" stroke-width="1.5"/><text class="sans" transform="translate(1741.11 345.86) scale(0.8840 1)" font-size="11.2" font-weight="bold" fill="#000">10</text>
</svg></body></html>
